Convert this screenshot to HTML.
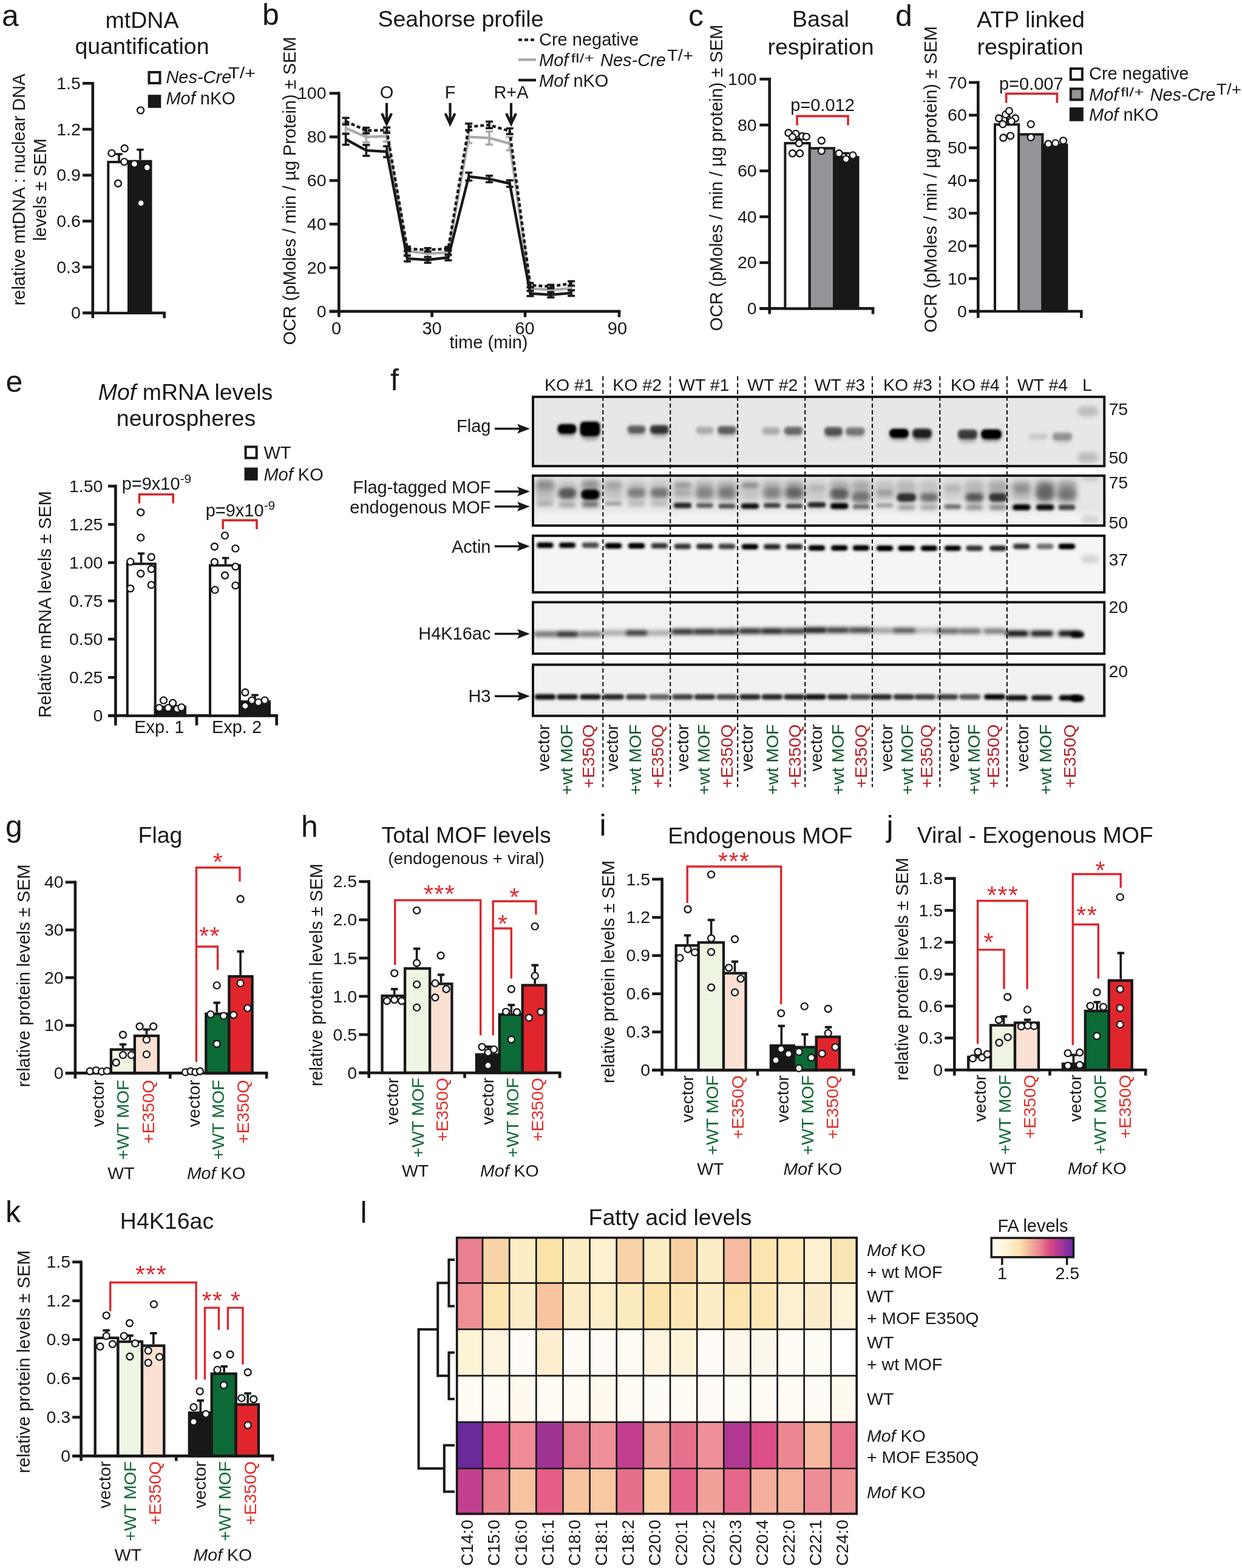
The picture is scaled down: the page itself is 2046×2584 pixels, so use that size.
<!DOCTYPE html>
<html><head><meta charset="utf-8"><style>
html,body{margin:0;padding:0;background:#fff;}
svg{display:block;}
text{font-family:"Liberation Sans", Arial, Helvetica, sans-serif;}
</style></head><body>
<svg width="2046" height="2584" viewBox="0 0 2046 2584">
<rect width="2046" height="2584" fill="#fff"/>
<text x="3.0" y="43.0" font-size="50" text-anchor="start" fill="#181818">a</text>
<text x="234.0" y="46.0" font-size="37.5" text-anchor="middle" fill="#181818">mtDNA</text>
<text x="234.0" y="89.0" font-size="37.5" text-anchor="middle" fill="#181818">quantification</text>
<line x1="152.8" y1="135.0" x2="152.8" y2="524.3" stroke="#181818" stroke-width="4.6"/>
<line x1="136.0" y1="515.8" x2="273.0" y2="515.8" stroke="#181818" stroke-width="4.6"/>
<line x1="270.7" y1="515.8" x2="270.7" y2="524.3" stroke="#181818" stroke-width="4.6"/>
<line x1="136.0" y1="515.8" x2="152.8" y2="515.8" stroke="#181818" stroke-width="4.6"/>
<text x="132.8" y="525.4" font-size="28.5" text-anchor="end" fill="#181818">0</text>
<line x1="136.0" y1="440.1" x2="152.8" y2="440.1" stroke="#181818" stroke-width="4.6"/>
<text x="132.8" y="449.7" font-size="28.5" text-anchor="end" fill="#181818">0.3</text>
<line x1="136.0" y1="364.4" x2="152.8" y2="364.4" stroke="#181818" stroke-width="4.6"/>
<text x="132.8" y="374.0" font-size="28.5" text-anchor="end" fill="#181818">0.6</text>
<line x1="136.0" y1="288.7" x2="152.8" y2="288.7" stroke="#181818" stroke-width="4.6"/>
<text x="132.8" y="298.3" font-size="28.5" text-anchor="end" fill="#181818">0.9</text>
<line x1="136.0" y1="213.0" x2="152.8" y2="213.0" stroke="#181818" stroke-width="4.6"/>
<text x="132.8" y="222.6" font-size="28.5" text-anchor="end" fill="#181818">1.2</text>
<line x1="136.0" y1="137.3" x2="152.8" y2="137.3" stroke="#181818" stroke-width="4.6"/>
<text x="132.8" y="146.9" font-size="28.5" text-anchor="end" fill="#181818">1.5</text>
<rect x="178.3" y="267.0" width="33.7" height="248.8" fill="#fff" stroke="#181818" stroke-width="4.0" stroke-linejoin="miter"/>
<rect x="212.0" y="265.7" width="36.5" height="250.1" fill="#181818" stroke="#181818" stroke-width="4.0" stroke-linejoin="miter"/>
<line x1="196.0" y1="266.0" x2="196.0" y2="254.0" stroke="#181818" stroke-width="3.6"/>
<line x1="190.2" y1="254.0" x2="201.8" y2="254.0" stroke="#181818" stroke-width="3.6"/>
<line x1="230.9" y1="263.5" x2="230.9" y2="246.7" stroke="#181818" stroke-width="3.6"/>
<line x1="225.2" y1="246.7" x2="236.7" y2="246.7" stroke="#181818" stroke-width="3.6"/>
<circle cx="184.0" cy="252.4" r="5.5" fill="#fff" stroke="#181818" stroke-width="2.35"/>
<circle cx="205.2" cy="244.5" r="5.5" fill="#fff" stroke="#181818" stroke-width="2.35"/>
<circle cx="204.7" cy="266.6" r="5.5" fill="#fff" stroke="#181818" stroke-width="2.35"/>
<circle cx="194.5" cy="302.2" r="5.5" fill="#fff" stroke="#181818" stroke-width="2.35"/>
<circle cx="231.6" cy="181.8" r="5.5" fill="#fff" stroke="#181818" stroke-width="2.35"/>
<circle cx="221.4" cy="270.1" r="5.5" fill="#fff" stroke="#181818" stroke-width="2.35"/>
<circle cx="242.4" cy="276.1" r="5.5" fill="#fff" stroke="#181818" stroke-width="2.35"/>
<circle cx="232.2" cy="334.8" r="5.5" fill="#fff" stroke="#181818" stroke-width="2.35"/>
<rect x="245.5" y="119.0" width="18.0" height="18.0" fill="#fff" stroke="#181818" stroke-width="4"/>
<rect x="243.7" y="156.2" width="21.6" height="21.6" fill="#181818" stroke="none" stroke-width="0"/>
<text x="273.4" y="137.4" font-size="29" text-anchor="start" fill="#181818" font-style="italic">Nes-Cre</text>
<text x="376.0" y="128.5" font-size="26" text-anchor="start" fill="#181818" textLength="45" lengthAdjust="spacingAndGlyphs">T/+</text>
<text x="273.4" y="172.4" font-size="29" text-anchor="start" fill="#181818"><tspan font-style="italic">Mof</tspan> nKO</text>
<text x="41.0" y="312.4" font-size="29" text-anchor="middle" fill="#181818" transform="rotate(-90 41.0 312.4)">relative mtDNA : nuclear DNA</text>
<text x="76.0" y="312.5" font-size="29" text-anchor="middle" fill="#181818" transform="rotate(-90 76.0 312.5)">levels ± SEM</text>
<text x="432.0" y="41.0" font-size="50" text-anchor="start" fill="#181818">b</text>
<text x="759.0" y="44.0" font-size="37.5" text-anchor="middle" fill="#181818">Seahorse profile</text>
<line x1="558.3" y1="151.4" x2="558.3" y2="522.6" stroke="#181818" stroke-width="4.6"/>
<line x1="542.7" y1="513.1" x2="1022.3" y2="513.1" stroke="#181818" stroke-width="4.6"/>
<line x1="1020.0" y1="513.1" x2="1020.0" y2="522.6" stroke="#181818" stroke-width="4.6"/>
<line x1="711.6" y1="513.1" x2="711.6" y2="522.6" stroke="#181818" stroke-width="4.6"/>
<line x1="865.0" y1="513.1" x2="865.0" y2="522.6" stroke="#181818" stroke-width="4.6"/>
<line x1="542.7" y1="513.1" x2="558.3" y2="513.1" stroke="#181818" stroke-width="4.6"/>
<text x="537.5" y="522.7" font-size="28.5" text-anchor="end" fill="#181818">0</text>
<line x1="542.7" y1="441.2" x2="558.3" y2="441.2" stroke="#181818" stroke-width="4.6"/>
<text x="537.5" y="450.8" font-size="28.5" text-anchor="end" fill="#181818">20</text>
<line x1="542.7" y1="369.3" x2="558.3" y2="369.3" stroke="#181818" stroke-width="4.6"/>
<text x="537.5" y="378.9" font-size="28.5" text-anchor="end" fill="#181818">40</text>
<line x1="542.7" y1="297.5" x2="558.3" y2="297.5" stroke="#181818" stroke-width="4.6"/>
<text x="537.5" y="307.1" font-size="28.5" text-anchor="end" fill="#181818">60</text>
<line x1="542.7" y1="225.6" x2="558.3" y2="225.6" stroke="#181818" stroke-width="4.6"/>
<text x="537.5" y="235.2" font-size="28.5" text-anchor="end" fill="#181818">80</text>
<line x1="542.7" y1="153.7" x2="558.3" y2="153.7" stroke="#181818" stroke-width="4.6"/>
<text x="537.5" y="163.3" font-size="28.5" text-anchor="end" fill="#181818">100</text>
<text x="554.0" y="550.5" font-size="29" text-anchor="middle" fill="#181818">0</text>
<text x="711.6" y="550.5" font-size="29" text-anchor="middle" fill="#181818">30</text>
<text x="864.4" y="550.5" font-size="29" text-anchor="middle" fill="#181818">60</text>
<text x="1017.0" y="550.5" font-size="29" text-anchor="middle" fill="#181818">90</text>
<text x="805.0" y="574.0" font-size="29" text-anchor="middle" fill="#181818">time (min)</text>
<text x="487.4" y="314.5" font-size="29" text-anchor="middle" fill="#181818" transform="rotate(-90 487.4 314.5)">OCR (pMoles / min / µg Protein) ± SEM</text>
<polyline points="569.6,211.2 603.3,225.6 637.1,224.5 670.9,413.9 704.6,417.9 738.4,416.1 772.2,225.6 806.0,227.4 839.7,236.7 873.5,475.4 907.3,477.5 941.1,475.4" stroke="#a7a9ac" stroke-width="4.4" fill="none" stroke-linejoin="round"/>
<line x1="569.6" y1="202.2" x2="569.6" y2="220.2" stroke="#a7a9ac" stroke-width="3.6"/>
<line x1="563.6" y1="202.2" x2="575.6" y2="202.2" stroke="#a7a9ac" stroke-width="3.6"/>
<line x1="563.6" y1="220.2" x2="575.6" y2="220.2" stroke="#a7a9ac" stroke-width="3.6"/>
<line x1="603.3" y1="216.6" x2="603.3" y2="234.6" stroke="#a7a9ac" stroke-width="3.6"/>
<line x1="597.3" y1="216.6" x2="609.3" y2="216.6" stroke="#a7a9ac" stroke-width="3.6"/>
<line x1="597.3" y1="234.6" x2="609.3" y2="234.6" stroke="#a7a9ac" stroke-width="3.6"/>
<line x1="637.1" y1="215.5" x2="637.1" y2="233.5" stroke="#a7a9ac" stroke-width="3.6"/>
<line x1="631.1" y1="215.5" x2="643.1" y2="215.5" stroke="#a7a9ac" stroke-width="3.6"/>
<line x1="631.1" y1="233.5" x2="643.1" y2="233.5" stroke="#a7a9ac" stroke-width="3.6"/>
<line x1="670.9" y1="408.5" x2="670.9" y2="419.3" stroke="#a7a9ac" stroke-width="3.6"/>
<line x1="664.9" y1="408.5" x2="676.9" y2="408.5" stroke="#a7a9ac" stroke-width="3.6"/>
<line x1="664.9" y1="419.3" x2="676.9" y2="419.3" stroke="#a7a9ac" stroke-width="3.6"/>
<line x1="704.6" y1="412.5" x2="704.6" y2="423.3" stroke="#a7a9ac" stroke-width="3.6"/>
<line x1="698.6" y1="412.5" x2="710.6" y2="412.5" stroke="#a7a9ac" stroke-width="3.6"/>
<line x1="698.6" y1="423.3" x2="710.6" y2="423.3" stroke="#a7a9ac" stroke-width="3.6"/>
<line x1="738.4" y1="410.7" x2="738.4" y2="421.5" stroke="#a7a9ac" stroke-width="3.6"/>
<line x1="732.4" y1="410.7" x2="744.4" y2="410.7" stroke="#a7a9ac" stroke-width="3.6"/>
<line x1="732.4" y1="421.5" x2="744.4" y2="421.5" stroke="#a7a9ac" stroke-width="3.6"/>
<line x1="772.2" y1="215.5" x2="772.2" y2="235.6" stroke="#a7a9ac" stroke-width="3.6"/>
<line x1="766.2" y1="215.5" x2="778.2" y2="215.5" stroke="#a7a9ac" stroke-width="3.6"/>
<line x1="766.2" y1="235.6" x2="778.2" y2="235.6" stroke="#a7a9ac" stroke-width="3.6"/>
<line x1="806.0" y1="216.6" x2="806.0" y2="238.2" stroke="#a7a9ac" stroke-width="3.6"/>
<line x1="800.0" y1="216.6" x2="812.0" y2="216.6" stroke="#a7a9ac" stroke-width="3.6"/>
<line x1="800.0" y1="238.2" x2="812.0" y2="238.2" stroke="#a7a9ac" stroke-width="3.6"/>
<line x1="839.7" y1="225.9" x2="839.7" y2="247.5" stroke="#a7a9ac" stroke-width="3.6"/>
<line x1="833.7" y1="225.9" x2="845.7" y2="225.9" stroke="#a7a9ac" stroke-width="3.6"/>
<line x1="833.7" y1="247.5" x2="845.7" y2="247.5" stroke="#a7a9ac" stroke-width="3.6"/>
<line x1="873.5" y1="471.1" x2="873.5" y2="479.7" stroke="#a7a9ac" stroke-width="3.6"/>
<line x1="867.5" y1="471.1" x2="879.5" y2="471.1" stroke="#a7a9ac" stroke-width="3.6"/>
<line x1="867.5" y1="479.7" x2="879.5" y2="479.7" stroke="#a7a9ac" stroke-width="3.6"/>
<line x1="907.3" y1="473.2" x2="907.3" y2="481.8" stroke="#a7a9ac" stroke-width="3.6"/>
<line x1="901.3" y1="473.2" x2="913.3" y2="473.2" stroke="#a7a9ac" stroke-width="3.6"/>
<line x1="901.3" y1="481.8" x2="913.3" y2="481.8" stroke="#a7a9ac" stroke-width="3.6"/>
<line x1="941.1" y1="471.1" x2="941.1" y2="479.7" stroke="#a7a9ac" stroke-width="3.6"/>
<line x1="935.1" y1="471.1" x2="947.1" y2="471.1" stroke="#a7a9ac" stroke-width="3.6"/>
<line x1="935.1" y1="479.7" x2="947.1" y2="479.7" stroke="#a7a9ac" stroke-width="3.6"/>
<polyline points="569.6,229.5 603.3,247.9 637.1,250.0 670.9,426.1 704.6,428.3 738.4,424.3 772.2,291.0 806.0,294.9 839.7,302.5 873.5,483.6 907.3,485.8 941.1,482.9" stroke="#181818" stroke-width="4.4" fill="none" stroke-linejoin="round"/>
<line x1="569.6" y1="220.5" x2="569.6" y2="238.5" stroke="#181818" stroke-width="3.6"/>
<line x1="563.6" y1="220.5" x2="575.6" y2="220.5" stroke="#181818" stroke-width="3.6"/>
<line x1="563.6" y1="238.5" x2="575.6" y2="238.5" stroke="#181818" stroke-width="3.6"/>
<line x1="603.3" y1="238.9" x2="603.3" y2="256.8" stroke="#181818" stroke-width="3.6"/>
<line x1="597.3" y1="238.9" x2="609.3" y2="238.9" stroke="#181818" stroke-width="3.6"/>
<line x1="597.3" y1="256.8" x2="609.3" y2="256.8" stroke="#181818" stroke-width="3.6"/>
<line x1="637.1" y1="241.0" x2="637.1" y2="259.0" stroke="#181818" stroke-width="3.6"/>
<line x1="631.1" y1="241.0" x2="643.1" y2="241.0" stroke="#181818" stroke-width="3.6"/>
<line x1="631.1" y1="259.0" x2="643.1" y2="259.0" stroke="#181818" stroke-width="3.6"/>
<line x1="670.9" y1="421.5" x2="670.9" y2="430.8" stroke="#181818" stroke-width="3.6"/>
<line x1="664.9" y1="421.5" x2="676.9" y2="421.5" stroke="#181818" stroke-width="3.6"/>
<line x1="664.9" y1="430.8" x2="676.9" y2="430.8" stroke="#181818" stroke-width="3.6"/>
<line x1="704.6" y1="423.6" x2="704.6" y2="433.0" stroke="#181818" stroke-width="3.6"/>
<line x1="698.6" y1="423.6" x2="710.6" y2="423.6" stroke="#181818" stroke-width="3.6"/>
<line x1="698.6" y1="433.0" x2="710.6" y2="433.0" stroke="#181818" stroke-width="3.6"/>
<line x1="738.4" y1="419.7" x2="738.4" y2="429.0" stroke="#181818" stroke-width="3.6"/>
<line x1="732.4" y1="419.7" x2="744.4" y2="419.7" stroke="#181818" stroke-width="3.6"/>
<line x1="732.4" y1="429.0" x2="744.4" y2="429.0" stroke="#181818" stroke-width="3.6"/>
<line x1="772.2" y1="284.5" x2="772.2" y2="297.5" stroke="#181818" stroke-width="3.6"/>
<line x1="766.2" y1="284.5" x2="778.2" y2="284.5" stroke="#181818" stroke-width="3.6"/>
<line x1="766.2" y1="297.5" x2="778.2" y2="297.5" stroke="#181818" stroke-width="3.6"/>
<line x1="806.0" y1="289.6" x2="806.0" y2="300.3" stroke="#181818" stroke-width="3.6"/>
<line x1="800.0" y1="289.6" x2="812.0" y2="289.6" stroke="#181818" stroke-width="3.6"/>
<line x1="800.0" y1="300.3" x2="812.0" y2="300.3" stroke="#181818" stroke-width="3.6"/>
<line x1="839.7" y1="297.1" x2="839.7" y2="307.9" stroke="#181818" stroke-width="3.6"/>
<line x1="833.7" y1="297.1" x2="845.7" y2="297.1" stroke="#181818" stroke-width="3.6"/>
<line x1="833.7" y1="307.9" x2="845.7" y2="307.9" stroke="#181818" stroke-width="3.6"/>
<line x1="873.5" y1="479.3" x2="873.5" y2="487.9" stroke="#181818" stroke-width="3.6"/>
<line x1="867.5" y1="479.3" x2="879.5" y2="479.3" stroke="#181818" stroke-width="3.6"/>
<line x1="867.5" y1="487.9" x2="879.5" y2="487.9" stroke="#181818" stroke-width="3.6"/>
<line x1="907.3" y1="481.5" x2="907.3" y2="490.1" stroke="#181818" stroke-width="3.6"/>
<line x1="901.3" y1="481.5" x2="913.3" y2="481.5" stroke="#181818" stroke-width="3.6"/>
<line x1="901.3" y1="490.1" x2="913.3" y2="490.1" stroke="#181818" stroke-width="3.6"/>
<line x1="941.1" y1="478.2" x2="941.1" y2="487.6" stroke="#181818" stroke-width="3.6"/>
<line x1="935.1" y1="478.2" x2="947.1" y2="478.2" stroke="#181818" stroke-width="3.6"/>
<line x1="935.1" y1="487.6" x2="947.1" y2="487.6" stroke="#181818" stroke-width="3.6"/>
<polyline points="569.6,199.7 603.3,215.2 637.1,214.4 670.9,410.0 704.6,411.7 738.4,410.0 772.2,209.0 806.0,205.8 839.7,216.2 873.5,470.0 907.3,472.1 941.1,467.1" stroke="#181818" stroke-width="4.4" fill="none" stroke-dasharray="6 4" stroke-linejoin="round"/>
<line x1="569.6" y1="194.3" x2="569.6" y2="205.1" stroke="#181818" stroke-width="3.6"/>
<line x1="563.6" y1="194.3" x2="575.6" y2="194.3" stroke="#181818" stroke-width="3.6"/>
<line x1="563.6" y1="205.1" x2="575.6" y2="205.1" stroke="#181818" stroke-width="3.6"/>
<line x1="603.3" y1="210.5" x2="603.3" y2="219.8" stroke="#181818" stroke-width="3.6"/>
<line x1="597.3" y1="210.5" x2="609.3" y2="210.5" stroke="#181818" stroke-width="3.6"/>
<line x1="597.3" y1="219.8" x2="609.3" y2="219.8" stroke="#181818" stroke-width="3.6"/>
<line x1="637.1" y1="210.1" x2="637.1" y2="218.8" stroke="#181818" stroke-width="3.6"/>
<line x1="631.1" y1="210.1" x2="643.1" y2="210.1" stroke="#181818" stroke-width="3.6"/>
<line x1="631.1" y1="218.8" x2="643.1" y2="218.8" stroke="#181818" stroke-width="3.6"/>
<line x1="670.9" y1="406.4" x2="670.9" y2="413.5" stroke="#181818" stroke-width="3.6"/>
<line x1="664.9" y1="406.4" x2="676.9" y2="406.4" stroke="#181818" stroke-width="3.6"/>
<line x1="664.9" y1="413.5" x2="676.9" y2="413.5" stroke="#181818" stroke-width="3.6"/>
<line x1="704.6" y1="408.9" x2="704.6" y2="414.6" stroke="#181818" stroke-width="3.6"/>
<line x1="698.6" y1="408.9" x2="710.6" y2="408.9" stroke="#181818" stroke-width="3.6"/>
<line x1="698.6" y1="414.6" x2="710.6" y2="414.6" stroke="#181818" stroke-width="3.6"/>
<line x1="738.4" y1="407.1" x2="738.4" y2="412.8" stroke="#181818" stroke-width="3.6"/>
<line x1="732.4" y1="407.1" x2="744.4" y2="407.1" stroke="#181818" stroke-width="3.6"/>
<line x1="732.4" y1="412.8" x2="744.4" y2="412.8" stroke="#181818" stroke-width="3.6"/>
<line x1="772.2" y1="203.7" x2="772.2" y2="214.4" stroke="#181818" stroke-width="3.6"/>
<line x1="766.2" y1="203.7" x2="778.2" y2="203.7" stroke="#181818" stroke-width="3.6"/>
<line x1="766.2" y1="214.4" x2="778.2" y2="214.4" stroke="#181818" stroke-width="3.6"/>
<line x1="806.0" y1="200.4" x2="806.0" y2="211.2" stroke="#181818" stroke-width="3.6"/>
<line x1="800.0" y1="200.4" x2="812.0" y2="200.4" stroke="#181818" stroke-width="3.6"/>
<line x1="800.0" y1="211.2" x2="812.0" y2="211.2" stroke="#181818" stroke-width="3.6"/>
<line x1="839.7" y1="211.6" x2="839.7" y2="220.9" stroke="#181818" stroke-width="3.6"/>
<line x1="833.7" y1="211.6" x2="845.7" y2="211.6" stroke="#181818" stroke-width="3.6"/>
<line x1="833.7" y1="220.9" x2="845.7" y2="220.9" stroke="#181818" stroke-width="3.6"/>
<line x1="873.5" y1="466.4" x2="873.5" y2="473.6" stroke="#181818" stroke-width="3.6"/>
<line x1="867.5" y1="466.4" x2="879.5" y2="466.4" stroke="#181818" stroke-width="3.6"/>
<line x1="867.5" y1="473.6" x2="879.5" y2="473.6" stroke="#181818" stroke-width="3.6"/>
<line x1="907.3" y1="469.3" x2="907.3" y2="475.0" stroke="#181818" stroke-width="3.6"/>
<line x1="901.3" y1="469.3" x2="913.3" y2="469.3" stroke="#181818" stroke-width="3.6"/>
<line x1="901.3" y1="475.0" x2="913.3" y2="475.0" stroke="#181818" stroke-width="3.6"/>
<line x1="941.1" y1="463.5" x2="941.1" y2="470.7" stroke="#181818" stroke-width="3.6"/>
<line x1="935.1" y1="463.5" x2="947.1" y2="463.5" stroke="#181818" stroke-width="3.6"/>
<line x1="935.1" y1="470.7" x2="947.1" y2="470.7" stroke="#181818" stroke-width="3.6"/>
<text x="637.0" y="162.0" font-size="29" text-anchor="middle" fill="#181818">O</text>
<line x1="637.0" y1="169.7" x2="637.0" y2="203.0" stroke="#181818" stroke-width="4.2"/>
<polyline points="629.0,187.0 637.0,204.0 645.0,187.0" stroke="#181818" stroke-width="4.2" fill="none" stroke-linejoin="miter" stroke-miterlimit="10"/>
<text x="741.5" y="162.0" font-size="29" text-anchor="middle" fill="#181818">F</text>
<line x1="741.5" y1="169.7" x2="741.5" y2="203.0" stroke="#181818" stroke-width="4.2"/>
<polyline points="733.5,187.0 741.5,204.0 749.5,187.0" stroke="#181818" stroke-width="4.2" fill="none" stroke-linejoin="miter" stroke-miterlimit="10"/>
<text x="842.0" y="162.0" font-size="29" text-anchor="middle" fill="#181818">R+A</text>
<line x1="842.0" y1="169.7" x2="842.0" y2="203.0" stroke="#181818" stroke-width="4.2"/>
<polyline points="834.0,187.0 842.0,204.0 850.0,187.0" stroke="#181818" stroke-width="4.2" fill="none" stroke-linejoin="miter" stroke-miterlimit="10"/>
<line x1="854.0" y1="65.6" x2="883.0" y2="65.6" stroke="#181818" stroke-width="4.4" stroke-dasharray="6 4"/>
<line x1="854.0" y1="98.4" x2="883.0" y2="98.4" stroke="#a7a9ac" stroke-width="4.4"/>
<line x1="854.0" y1="132.0" x2="883.0" y2="132.0" stroke="#181818" stroke-width="4.4"/>
<text x="888.0" y="75.0" font-size="29" text-anchor="start" fill="#181818">Cre negative</text>
<text x="888.0" y="108.9" font-size="29" text-anchor="start" fill="#181818" font-style="italic">Mof</text>
<text x="940.5" y="102.5" font-size="21" text-anchor="start" fill="#181818" textLength="38.5" lengthAdjust="spacingAndGlyphs">fl/+</text>
<text x="989.0" y="108.9" font-size="29" text-anchor="start" fill="#181818" font-style="italic">Nes-Cre</text>
<text x="1099.0" y="100.0" font-size="26" text-anchor="start" fill="#181818" textLength="43" lengthAdjust="spacingAndGlyphs">T/+</text>
<text x="888.0" y="143.4" font-size="29" text-anchor="start" fill="#181818"><tspan font-style="italic">Mof</tspan> nKO</text>
<text x="1134.0" y="43.0" font-size="50" text-anchor="start" fill="#181818">c</text>
<text x="1352.0" y="44.4" font-size="37.5" text-anchor="middle" fill="#181818">Basal</text>
<text x="1352.0" y="90.0" font-size="37.5" text-anchor="middle" fill="#181818">respiration</text>
<line x1="1267.7" y1="128.1" x2="1267.7" y2="517.6" stroke="#181818" stroke-width="4.6"/>
<line x1="1251.3" y1="508.4" x2="1440.3" y2="508.4" stroke="#181818" stroke-width="4.6"/>
<line x1="1438.0" y1="508.4" x2="1438.0" y2="517.6" stroke="#181818" stroke-width="4.6"/>
<line x1="1251.3" y1="508.4" x2="1267.7" y2="508.4" stroke="#181818" stroke-width="4.6"/>
<text x="1246.6" y="518.0" font-size="28.5" text-anchor="end" fill="#181818">0</text>
<line x1="1251.3" y1="432.8" x2="1267.7" y2="432.8" stroke="#181818" stroke-width="4.6"/>
<text x="1246.6" y="442.4" font-size="28.5" text-anchor="end" fill="#181818">20</text>
<line x1="1251.3" y1="357.2" x2="1267.7" y2="357.2" stroke="#181818" stroke-width="4.6"/>
<text x="1246.6" y="366.8" font-size="28.5" text-anchor="end" fill="#181818">40</text>
<line x1="1251.3" y1="281.6" x2="1267.7" y2="281.6" stroke="#181818" stroke-width="4.6"/>
<text x="1246.6" y="291.2" font-size="28.5" text-anchor="end" fill="#181818">60</text>
<line x1="1251.3" y1="206.0" x2="1267.7" y2="206.0" stroke="#181818" stroke-width="4.6"/>
<text x="1246.6" y="215.6" font-size="28.5" text-anchor="end" fill="#181818">80</text>
<line x1="1251.3" y1="130.4" x2="1267.7" y2="130.4" stroke="#181818" stroke-width="4.6"/>
<text x="1246.6" y="140.0" font-size="28.5" text-anchor="end" fill="#181818">100</text>
<rect x="1293.4" y="236.0" width="40.3" height="272.4" fill="#fff" stroke="#181818" stroke-width="4.0" stroke-linejoin="miter"/>
<rect x="1333.7" y="244.3" width="40.3" height="264.1" fill="#939598" stroke="#181818" stroke-width="4.0" stroke-linejoin="miter"/>
<rect x="1374.0" y="259.0" width="39.5" height="249.4" fill="#181818" stroke="#181818" stroke-width="4.0" stroke-linejoin="miter"/>
<line x1="1313.5" y1="234.0" x2="1313.5" y2="228.9" stroke="#181818" stroke-width="3.6"/>
<line x1="1307.8" y1="228.9" x2="1319.2" y2="228.9" stroke="#181818" stroke-width="3.6"/>
<line x1="1393.7" y1="257.0" x2="1393.7" y2="252.4" stroke="#181818" stroke-width="3.6"/>
<line x1="1388.0" y1="252.4" x2="1399.5" y2="252.4" stroke="#181818" stroke-width="3.6"/>
<circle cx="1298.8" cy="219.0" r="5.5" fill="#fff" stroke="#181818" stroke-width="2.35"/>
<circle cx="1310.9" cy="220.4" r="5.5" fill="#fff" stroke="#181818" stroke-width="2.35"/>
<circle cx="1321.6" cy="224.5" r="5.5" fill="#fff" stroke="#181818" stroke-width="2.35"/>
<circle cx="1328.3" cy="225.3" r="5.5" fill="#fff" stroke="#181818" stroke-width="2.35"/>
<circle cx="1305.5" cy="225.8" r="5.5" fill="#fff" stroke="#181818" stroke-width="2.35"/>
<circle cx="1316.2" cy="236.0" r="5.5" fill="#fff" stroke="#181818" stroke-width="2.35"/>
<circle cx="1305.5" cy="252.7" r="5.5" fill="#fff" stroke="#181818" stroke-width="2.35"/>
<circle cx="1317.6" cy="252.7" r="5.5" fill="#fff" stroke="#181818" stroke-width="2.35"/>
<circle cx="1353.3" cy="231.7" r="5.5" fill="#fff" stroke="#181818" stroke-width="2.35"/>
<circle cx="1353.3" cy="248.7" r="5.5" fill="#fff" stroke="#181818" stroke-width="2.35"/>
<circle cx="1382.1" cy="252.7" r="5.5" fill="#fff" stroke="#181818" stroke-width="2.35"/>
<circle cx="1393.7" cy="262.1" r="5.5" fill="#fff" stroke="#181818" stroke-width="2.35"/>
<circle cx="1405.0" cy="255.9" r="5.5" fill="#fff" stroke="#181818" stroke-width="2.35"/>
<polyline points="1313.0,206.5 1313.0,191.4 1397.0,191.4 1397.0,206.5" stroke="#d7262b" stroke-width="3.6" fill="none" stroke-linejoin="miter" stroke-linecap="butt"/>
<text x="1355.0" y="182.8" font-size="29" text-anchor="middle" fill="#181818">p=0.012</text>
<text x="1190.4" y="293.0" font-size="29" text-anchor="middle" fill="#181818" transform="rotate(-90 1190.4 293.0)">OCR (pMoles / min / µg protein) ± SEM</text>
<text x="1475.0" y="43.0" font-size="50" text-anchor="start" fill="#181818">d</text>
<text x="1698.0" y="44.8" font-size="37.5" text-anchor="middle" fill="#181818">ATP linked</text>
<text x="1697.0" y="89.5" font-size="37.5" text-anchor="middle" fill="#181818">respiration</text>
<line x1="1611.3" y1="133.6" x2="1611.3" y2="524.0" stroke="#181818" stroke-width="4.6"/>
<line x1="1596.0" y1="513.0" x2="1783.6" y2="513.0" stroke="#181818" stroke-width="4.6"/>
<line x1="1781.3" y1="513.0" x2="1781.3" y2="524.0" stroke="#181818" stroke-width="4.6"/>
<line x1="1596.0" y1="513.0" x2="1611.3" y2="513.0" stroke="#181818" stroke-width="4.6"/>
<text x="1592.8" y="522.6" font-size="28.5" text-anchor="end" fill="#181818">0</text>
<line x1="1596.0" y1="459.1" x2="1611.3" y2="459.1" stroke="#181818" stroke-width="4.6"/>
<text x="1592.8" y="468.7" font-size="28.5" text-anchor="end" fill="#181818">10</text>
<line x1="1596.0" y1="405.3" x2="1611.3" y2="405.3" stroke="#181818" stroke-width="4.6"/>
<text x="1592.8" y="414.9" font-size="28.5" text-anchor="end" fill="#181818">20</text>
<line x1="1596.0" y1="351.4" x2="1611.3" y2="351.4" stroke="#181818" stroke-width="4.6"/>
<text x="1592.8" y="361.0" font-size="28.5" text-anchor="end" fill="#181818">30</text>
<line x1="1596.0" y1="297.5" x2="1611.3" y2="297.5" stroke="#181818" stroke-width="4.6"/>
<text x="1592.8" y="307.1" font-size="28.5" text-anchor="end" fill="#181818">40</text>
<line x1="1596.0" y1="243.6" x2="1611.3" y2="243.6" stroke="#181818" stroke-width="4.6"/>
<text x="1592.8" y="253.2" font-size="28.5" text-anchor="end" fill="#181818">50</text>
<line x1="1596.0" y1="189.8" x2="1611.3" y2="189.8" stroke="#181818" stroke-width="4.6"/>
<text x="1592.8" y="199.4" font-size="28.5" text-anchor="end" fill="#181818">60</text>
<line x1="1596.0" y1="135.9" x2="1611.3" y2="135.9" stroke="#181818" stroke-width="4.6"/>
<text x="1592.8" y="145.5" font-size="28.5" text-anchor="end" fill="#181818">70</text>
<rect x="1639.0" y="205.2" width="39.2" height="307.8" fill="#fff" stroke="#181818" stroke-width="4.0" stroke-linejoin="miter"/>
<rect x="1678.2" y="221.4" width="39.2" height="291.6" fill="#939598" stroke="#181818" stroke-width="4.0" stroke-linejoin="miter"/>
<rect x="1717.4" y="238.6" width="40.0" height="274.4" fill="#181818" stroke="#181818" stroke-width="4.0" stroke-linejoin="miter"/>
<line x1="1659.0" y1="203.2" x2="1659.0" y2="191.9" stroke="#181818" stroke-width="3.6"/>
<line x1="1653.2" y1="191.9" x2="1664.8" y2="191.9" stroke="#181818" stroke-width="3.6"/>
<circle cx="1645.5" cy="195.0" r="5.5" fill="#fff" stroke="#181818" stroke-width="2.35"/>
<circle cx="1656.6" cy="188.6" r="5.5" fill="#fff" stroke="#181818" stroke-width="2.35"/>
<circle cx="1662.4" cy="182.9" r="5.5" fill="#fff" stroke="#181818" stroke-width="2.35"/>
<circle cx="1672.6" cy="195.0" r="5.5" fill="#fff" stroke="#181818" stroke-width="2.35"/>
<circle cx="1666.2" cy="199.8" r="5.5" fill="#fff" stroke="#181818" stroke-width="2.35"/>
<circle cx="1651.9" cy="204.6" r="5.5" fill="#fff" stroke="#181818" stroke-width="2.35"/>
<circle cx="1652.8" cy="227.0" r="5.5" fill="#fff" stroke="#181818" stroke-width="2.35"/>
<circle cx="1664.6" cy="223.8" r="5.5" fill="#fff" stroke="#181818" stroke-width="2.35"/>
<circle cx="1698.2" cy="204.6" r="5.5" fill="#fff" stroke="#181818" stroke-width="2.35"/>
<circle cx="1698.2" cy="226.3" r="5.5" fill="#fff" stroke="#181818" stroke-width="2.35"/>
<circle cx="1727.0" cy="237.2" r="5.5" fill="#fff" stroke="#181818" stroke-width="2.35"/>
<circle cx="1738.8" cy="235.9" r="5.5" fill="#fff" stroke="#181818" stroke-width="2.35"/>
<circle cx="1751.6" cy="231.8" r="5.5" fill="#fff" stroke="#181818" stroke-width="2.35"/>
<polyline points="1657.6,169.4 1657.6,154.4 1741.4,154.4 1741.4,169.4" stroke="#d7262b" stroke-width="3.6" fill="none" stroke-linejoin="miter" stroke-linecap="butt"/>
<text x="1698.8" y="147.7" font-size="29" text-anchor="middle" fill="#181818">p=0.007</text>
<rect x="1763.8" y="113.1" width="19.0" height="18.1" fill="#fff" stroke="#181818" stroke-width="4"/>
<rect x="1763.8" y="146.3" width="19.0" height="18.1" fill="#939598" stroke="#181818" stroke-width="4"/>
<rect x="1761.8" y="177.0" width="23.0" height="22.7" fill="#181818" stroke="none" stroke-width="0"/>
<text x="1794.0" y="130.7" font-size="29" text-anchor="start" fill="#181818">Cre negative</text>
<text x="1794.0" y="165.6" font-size="29" text-anchor="start" fill="#181818" font-style="italic">Mof</text>
<text x="1846.0" y="158.8" font-size="21" text-anchor="start" fill="#181818" textLength="38.5" lengthAdjust="spacingAndGlyphs">fl/+</text>
<text x="1894.5" y="165.6" font-size="29" text-anchor="start" fill="#181818" font-style="italic">Nes-Cre</text>
<text x="2004.0" y="156.2" font-size="26" text-anchor="start" fill="#181818" textLength="41" lengthAdjust="spacingAndGlyphs">T/+</text>
<text x="1794.0" y="198.8" font-size="29" text-anchor="start" fill="#181818"><tspan font-style="italic">Mof</tspan> nKO</text>
<text x="1543.2" y="295.5" font-size="29" text-anchor="middle" fill="#181818" transform="rotate(-90 1543.2 295.5)">OCR (pMoles / min / µg protein) ± SEM</text>
<text x="9.5" y="645.5" font-size="50" text-anchor="start" fill="#181818">e</text>
<text x="305.5" y="659.0" font-size="37.5" text-anchor="middle" fill="#181818"><tspan font-style="italic">Mof</tspan> mRNA levels</text>
<text x="306.5" y="701.6" font-size="37.5" text-anchor="middle" fill="#181818">neurospheres</text>
<line x1="190.4" y1="798.8" x2="190.4" y2="1195.4" stroke="#181818" stroke-width="4.6"/>
<line x1="178.0" y1="1179.4" x2="458.0" y2="1179.4" stroke="#181818" stroke-width="4.6"/>
<line x1="455.7" y1="1179.4" x2="455.7" y2="1195.4" stroke="#181818" stroke-width="4.6"/>
<line x1="324.0" y1="1179.4" x2="324.0" y2="1195.4" stroke="#181818" stroke-width="4.6"/>
<line x1="178.0" y1="1179.4" x2="190.4" y2="1179.4" stroke="#181818" stroke-width="4.6"/>
<text x="169.4" y="1189.0" font-size="28.5" text-anchor="end" fill="#181818">0</text>
<line x1="178.0" y1="1116.4" x2="190.4" y2="1116.4" stroke="#181818" stroke-width="4.6"/>
<text x="169.4" y="1126.0" font-size="28.5" text-anchor="end" fill="#181818">0.25</text>
<line x1="178.0" y1="1053.3" x2="190.4" y2="1053.3" stroke="#181818" stroke-width="4.6"/>
<text x="169.4" y="1062.9" font-size="28.5" text-anchor="end" fill="#181818">0.50</text>
<line x1="178.0" y1="990.2" x2="190.4" y2="990.2" stroke="#181818" stroke-width="4.6"/>
<text x="169.4" y="999.9" font-size="28.5" text-anchor="end" fill="#181818">0.75</text>
<line x1="178.0" y1="927.2" x2="190.4" y2="927.2" stroke="#181818" stroke-width="4.6"/>
<text x="169.4" y="936.8" font-size="28.5" text-anchor="end" fill="#181818">1.00</text>
<line x1="178.0" y1="864.2" x2="190.4" y2="864.2" stroke="#181818" stroke-width="4.6"/>
<text x="169.4" y="873.8" font-size="28.5" text-anchor="end" fill="#181818">1.25</text>
<line x1="178.0" y1="801.1" x2="190.4" y2="801.1" stroke="#181818" stroke-width="4.6"/>
<text x="169.4" y="810.7" font-size="28.5" text-anchor="end" fill="#181818">1.50</text>
<rect x="209.8" y="929.2" width="45.9" height="250.2" fill="#fff" stroke="#181818" stroke-width="4.0" stroke-linejoin="miter"/>
<rect x="255.7" y="1165.0" width="49.3" height="14.4" fill="#181818" stroke="#181818" stroke-width="4.0" stroke-linejoin="miter"/>
<rect x="346.0" y="931.7" width="49.0" height="247.7" fill="#fff" stroke="#181818" stroke-width="4.0" stroke-linejoin="miter"/>
<rect x="395.0" y="1156.2" width="49.0" height="23.2" fill="#181818" stroke="#181818" stroke-width="4.0" stroke-linejoin="miter"/>
<line x1="232.5" y1="927.2" x2="232.5" y2="912.1" stroke="#181818" stroke-width="3.6"/>
<line x1="226.8" y1="912.1" x2="238.2" y2="912.1" stroke="#181818" stroke-width="3.6"/>
<line x1="371.5" y1="929.7" x2="371.5" y2="919.6" stroke="#181818" stroke-width="3.6"/>
<line x1="365.8" y1="919.6" x2="377.2" y2="919.6" stroke="#181818" stroke-width="3.6"/>
<line x1="420.0" y1="1154.2" x2="420.0" y2="1145.4" stroke="#181818" stroke-width="3.6"/>
<line x1="414.2" y1="1145.4" x2="425.8" y2="1145.4" stroke="#181818" stroke-width="3.6"/>
<circle cx="231.8" cy="844.3" r="5.5" fill="#fff" stroke="#181818" stroke-width="2.35"/>
<circle cx="231.8" cy="885.9" r="5.5" fill="#fff" stroke="#181818" stroke-width="2.35"/>
<circle cx="249.2" cy="918.0" r="5.5" fill="#fff" stroke="#181818" stroke-width="2.35"/>
<circle cx="214.8" cy="925.6" r="5.5" fill="#fff" stroke="#181818" stroke-width="2.35"/>
<circle cx="249.2" cy="937.7" r="5.5" fill="#fff" stroke="#181818" stroke-width="2.35"/>
<circle cx="231.8" cy="945.2" r="5.5" fill="#fff" stroke="#181818" stroke-width="2.35"/>
<circle cx="249.2" cy="963.9" r="5.5" fill="#fff" stroke="#181818" stroke-width="2.35"/>
<circle cx="214.8" cy="969.8" r="5.5" fill="#fff" stroke="#181818" stroke-width="2.35"/>
<circle cx="269.5" cy="1154.1" r="5.5" fill="#fff" stroke="#181818" stroke-width="2.35"/>
<circle cx="284.6" cy="1158.4" r="5.5" fill="#fff" stroke="#181818" stroke-width="2.35"/>
<circle cx="262.3" cy="1166.6" r="5.5" fill="#fff" stroke="#181818" stroke-width="2.35"/>
<circle cx="277.0" cy="1166.6" r="5.5" fill="#fff" stroke="#181818" stroke-width="2.35"/>
<circle cx="291.8" cy="1168.2" r="5.5" fill="#fff" stroke="#181818" stroke-width="2.35"/>
<circle cx="299.0" cy="1165.6" r="5.5" fill="#fff" stroke="#181818" stroke-width="2.35"/>
<circle cx="370.5" cy="882.6" r="5.5" fill="#fff" stroke="#181818" stroke-width="2.35"/>
<circle cx="353.4" cy="900.7" r="5.5" fill="#fff" stroke="#181818" stroke-width="2.35"/>
<circle cx="387.9" cy="903.9" r="5.5" fill="#fff" stroke="#181818" stroke-width="2.35"/>
<circle cx="353.4" cy="926.2" r="5.5" fill="#fff" stroke="#181818" stroke-width="2.35"/>
<circle cx="387.9" cy="933.8" r="5.5" fill="#fff" stroke="#181818" stroke-width="2.35"/>
<circle cx="370.5" cy="948.2" r="5.5" fill="#fff" stroke="#181818" stroke-width="2.35"/>
<circle cx="387.9" cy="964.9" r="5.5" fill="#fff" stroke="#181818" stroke-width="2.35"/>
<circle cx="354.1" cy="972.1" r="5.5" fill="#fff" stroke="#181818" stroke-width="2.35"/>
<circle cx="403.9" cy="1141.0" r="5.5" fill="#fff" stroke="#181818" stroke-width="2.35"/>
<circle cx="414.8" cy="1154.1" r="5.5" fill="#fff" stroke="#181818" stroke-width="2.35"/>
<circle cx="425.6" cy="1157.4" r="5.5" fill="#fff" stroke="#181818" stroke-width="2.35"/>
<circle cx="436.1" cy="1154.1" r="5.5" fill="#fff" stroke="#181818" stroke-width="2.35"/>
<circle cx="403.9" cy="1163.3" r="5.5" fill="#fff" stroke="#181818" stroke-width="2.35"/>
<polyline points="229.5,829.5 229.5,814.8 285.2,814.8 285.2,829.5" stroke="#d7262b" stroke-width="3.6" fill="none" stroke-linejoin="miter" stroke-linecap="butt"/>
<polyline points="367.2,872.0 367.2,857.4 423.0,857.4 423.0,872.0" stroke="#d7262b" stroke-width="3.6" fill="none" stroke-linejoin="miter" stroke-linecap="butt"/>
<text x="258.0" y="806.6" font-size="29" text-anchor="middle" fill="#181818">p=9x10<tspan dy="-11" font-size="21">-9</tspan></text>
<text x="396.0" y="850.8" font-size="29" text-anchor="middle" fill="#181818">p=9x10<tspan dy="-11" font-size="21">-9</tspan></text>
<text x="262.3" y="1208.0" font-size="29" text-anchor="middle" fill="#181818">Exp. 1</text>
<text x="390.0" y="1208.0" font-size="29" text-anchor="middle" fill="#181818">Exp. 2</text>
<rect x="404.6" y="736.4" width="18.0" height="18.3" fill="#fff" stroke="#181818" stroke-width="4"/>
<rect x="402.6" y="770.5" width="22.0" height="21.3" fill="#181818" stroke="none" stroke-width="0"/>
<text x="434.4" y="755.7" font-size="29" text-anchor="start" fill="#181818">WT</text>
<text x="434.4" y="791.8" font-size="29" text-anchor="start" fill="#181818"><tspan font-style="italic">Mof</tspan> KO</text>
<text x="84.0" y="996.0" font-size="29" text-anchor="middle" fill="#181818" transform="rotate(-90 84.0 996.0)">Relative mRNA levels ± SEM</text>
<defs>
<filter id="b1" x="-50%" y="-100%" width="200%" height="300%"><feGaussianBlur stdDeviation="1.4"/></filter>
<filter id="b2" x="-50%" y="-100%" width="200%" height="300%"><feGaussianBlur stdDeviation="2.2"/></filter>
<filter id="b3" x="-50%" y="-100%" width="200%" height="300%"><feGaussianBlur stdDeviation="3.2"/></filter>
<filter id="b5" x="-50%" y="-100%" width="200%" height="300%"><feGaussianBlur stdDeviation="5"/></filter>

<clipPath id="clip_flag"><rect x="878" y="654.0" width="941.2" height="114.10000000000002"/></clipPath>
<clipPath id="clip_mof"><rect x="878" y="783.9" width="941.2" height="82.30000000000007"/></clipPath>
<clipPath id="clip_actin"><rect x="878" y="882.9" width="941.2" height="93.30000000000007"/></clipPath>
<clipPath id="clip_h4"><rect x="878" y="992.4" width="941.2" height="84.80000000000007"/></clipPath>
<clipPath id="clip_h3"><rect x="878" y="1095.4" width="941.2" height="84.29999999999995"/></clipPath>
</defs>
<text x="643.0" y="643.0" font-size="50" text-anchor="start" fill="#181818">f</text>
<text x="937.4" y="644.2" font-size="28.5" text-anchor="middle" fill="#181818">KO #1</text>
<text x="1049.6" y="644.2" font-size="28.5" text-anchor="middle" fill="#181818">KO #2</text>
<text x="1159.7" y="644.2" font-size="28.5" text-anchor="middle" fill="#181818">WT #1</text>
<text x="1272.7" y="644.2" font-size="28.5" text-anchor="middle" fill="#181818">WT #2</text>
<text x="1383.4" y="644.2" font-size="28.5" text-anchor="middle" fill="#181818">WT #3</text>
<text x="1495.5" y="644.2" font-size="28.5" text-anchor="middle" fill="#181818">KO #3</text>
<text x="1606.3" y="644.2" font-size="28.5" text-anchor="middle" fill="#181818">KO #4</text>
<text x="1717.4" y="644.2" font-size="28.5" text-anchor="middle" fill="#181818">WT #4</text>
<text x="1791.0" y="644.2" font-size="28.5" text-anchor="middle" fill="#181818">L</text>
<rect x="878.0" y="654.0" width="941.2" height="114.1" fill="#e7e7e7" stroke="none" stroke-width="0"/>
<rect x="878.0" y="783.9" width="941.2" height="82.3" fill="#e6e6e6" stroke="none" stroke-width="0"/>
<rect x="878.0" y="882.9" width="941.2" height="93.3" fill="#f5f5f5" stroke="none" stroke-width="0"/>
<rect x="878.0" y="992.4" width="941.2" height="84.8" fill="#f2f2f2" stroke="none" stroke-width="0"/>
<rect x="878.0" y="1095.4" width="941.2" height="84.3" fill="#f1f1f1" stroke="none" stroke-width="0"/>
<g clip-path="url(#clip_flag)">
<rect x="920.0" y="706.8" width="28.0" height="12.8" rx="6.4" fill="#000" fill-opacity="0.30" filter="url(#b3)"/>
<rect x="918.5" y="698.8" width="31.0" height="16.0" rx="7.0" fill="#000" fill-opacity="1.00" filter="url(#b2)"/>
<rect x="921.0" y="701.3" width="26.0" height="11.0" rx="5.0" fill="#000" fill-opacity="1.00" filter="url(#b1)"/>
<rect x="957.0" y="706.8" width="30.0" height="19.2" rx="9.6" fill="#000" fill-opacity="0.30" filter="url(#b3)"/>
<rect x="955.5" y="694.8" width="33.0" height="24.0" rx="7.0" fill="#000" fill-opacity="1.00" filter="url(#b2)"/>
<rect x="958.0" y="697.3" width="28.0" height="19.0" rx="5.0" fill="#000" fill-opacity="1.00" filter="url(#b1)"/>
<rect x="1035.0" y="707.5" width="27.0" height="11.7" rx="5.9" fill="#000" fill-opacity="0.19" filter="url(#b3)"/>
<rect x="1033.5" y="701.0" width="30.0" height="13.0" rx="6.0" fill="#000" fill-opacity="0.55" filter="url(#b2)"/>
<rect x="1072.4" y="707.5" width="28.0" height="12.9" rx="6.4" fill="#000" fill-opacity="0.26" filter="url(#b3)"/>
<rect x="1070.9" y="700.4" width="31.0" height="14.3" rx="6.0" fill="#000" fill-opacity="0.75" filter="url(#b2)"/>
<rect x="1147.5" y="708.5" width="27.0" height="10.5" rx="5.3" fill="#000" fill-opacity="0.08" filter="url(#b3)"/>
<rect x="1146.0" y="702.6" width="30.0" height="11.7" rx="5.9" fill="#000" fill-opacity="0.22" filter="url(#b2)"/>
<rect x="1183.4" y="708.5" width="28.0" height="11.7" rx="5.9" fill="#000" fill-opacity="0.19" filter="url(#b3)"/>
<rect x="1181.9" y="702.0" width="31.0" height="13.0" rx="6.0" fill="#000" fill-opacity="0.55" filter="url(#b2)"/>
<rect x="1256.5" y="709.5" width="27.0" height="10.5" rx="5.3" fill="#000" fill-opacity="0.08" filter="url(#b3)"/>
<rect x="1255.0" y="703.6" width="30.0" height="11.7" rx="5.9" fill="#000" fill-opacity="0.22" filter="url(#b2)"/>
<rect x="1293.0" y="709.5" width="28.0" height="11.7" rx="5.9" fill="#000" fill-opacity="0.17" filter="url(#b3)"/>
<rect x="1291.5" y="703.0" width="31.0" height="13.0" rx="6.0" fill="#000" fill-opacity="0.50" filter="url(#b2)"/>
<rect x="1359.5" y="710.5" width="27.0" height="12.9" rx="6.4" fill="#000" fill-opacity="0.21" filter="url(#b3)"/>
<rect x="1358.0" y="703.4" width="30.0" height="14.3" rx="6.0" fill="#000" fill-opacity="0.60" filter="url(#b2)"/>
<rect x="1394.3" y="710.5" width="29.0" height="11.7" rx="5.9" fill="#000" fill-opacity="0.16" filter="url(#b3)"/>
<rect x="1392.8" y="704.0" width="32.0" height="13.0" rx="6.0" fill="#000" fill-opacity="0.45" filter="url(#b2)"/>
<rect x="1466.5" y="714.0" width="29.0" height="12.0" rx="6.0" fill="#000" fill-opacity="0.30" filter="url(#b3)"/>
<rect x="1465.0" y="706.5" width="32.0" height="15.0" rx="7.0" fill="#000" fill-opacity="1.00" filter="url(#b2)"/>
<rect x="1467.5" y="709.0" width="27.0" height="10.0" rx="5.0" fill="#000" fill-opacity="1.00" filter="url(#b1)"/>
<rect x="1504.5" y="714.0" width="29.0" height="14.0" rx="7.0" fill="#000" fill-opacity="0.30" filter="url(#b3)"/>
<rect x="1503.0" y="706.2" width="32.0" height="15.6" rx="6.0" fill="#000" fill-opacity="0.85" filter="url(#b2)"/>
<rect x="1579.5" y="715.5" width="29.0" height="14.0" rx="7.0" fill="#000" fill-opacity="0.25" filter="url(#b3)"/>
<rect x="1578.0" y="707.7" width="32.0" height="15.6" rx="6.0" fill="#000" fill-opacity="0.72" filter="url(#b2)"/>
<rect x="1617.5" y="715.5" width="31.0" height="12.8" rx="6.4" fill="#000" fill-opacity="0.30" filter="url(#b3)"/>
<rect x="1616.0" y="707.5" width="34.0" height="16.0" rx="7.0" fill="#000" fill-opacity="1.00" filter="url(#b2)"/>
<rect x="1618.5" y="710.0" width="29.0" height="11.0" rx="5.0" fill="#000" fill-opacity="1.00" filter="url(#b1)"/>
<rect x="1695.5" y="719.0" width="29.0" height="9.4" rx="4.7" fill="#000" fill-opacity="0.03" filter="url(#b3)"/>
<rect x="1694.0" y="713.8" width="32.0" height="10.4" rx="5.2" fill="#000" fill-opacity="0.10" filter="url(#b2)"/>
<rect x="1735.0" y="719.0" width="30.0" height="11.7" rx="5.9" fill="#000" fill-opacity="0.11" filter="url(#b3)"/>
<rect x="1733.5" y="712.5" width="33.0" height="13.0" rx="6.0" fill="#000" fill-opacity="0.32" filter="url(#b2)"/>
<rect x="1775.0" y="669.3" width="34.0" height="17.0" rx="8.5" fill="#555" fill-opacity="0.28" filter="url(#b3)"/>
<rect x="1775.0" y="745.5" width="34.0" height="17.0" rx="8.5" fill="#555" fill-opacity="0.28" filter="url(#b3)"/>
</g>
<g clip-path="url(#clip_mof)">
<rect x="878" y="845" width="941.2" height="22" fill="#f3f3f3" filter="url(#b5)"/>
<rect x="882.0" y="791.0" width="32.0" height="34.0" rx="6.0" fill="#000" fill-opacity="0.18" filter="url(#b5)"/>
<rect x="918.6" y="791.0" width="32.0" height="34.0" rx="6.0" fill="#000" fill-opacity="0.15" filter="url(#b5)"/>
<rect x="956.6" y="791.0" width="32.0" height="34.0" rx="6.0" fill="#000" fill-opacity="0.20" filter="url(#b5)"/>
<rect x="994.5" y="791.0" width="32.0" height="34.0" rx="6.0" fill="#000" fill-opacity="0.15" filter="url(#b5)"/>
<rect x="1032.5" y="791.0" width="32.0" height="34.0" rx="6.0" fill="#000" fill-opacity="0.15" filter="url(#b5)"/>
<rect x="1070.4" y="791.0" width="32.0" height="34.0" rx="6.0" fill="#000" fill-opacity="0.15" filter="url(#b5)"/>
<rect x="1108.4" y="791.0" width="32.0" height="34.0" rx="6.0" fill="#000" fill-opacity="0.15" filter="url(#b5)"/>
<rect x="1144.9" y="791.0" width="32.0" height="34.0" rx="6.0" fill="#000" fill-opacity="0.20" filter="url(#b5)"/>
<rect x="1181.4" y="791.0" width="32.0" height="34.0" rx="6.0" fill="#000" fill-opacity="0.22" filter="url(#b5)"/>
<rect x="1219.4" y="791.0" width="32.0" height="34.0" rx="6.0" fill="#000" fill-opacity="0.15" filter="url(#b5)"/>
<rect x="1255.9" y="791.0" width="32.0" height="34.0" rx="6.0" fill="#000" fill-opacity="0.20" filter="url(#b5)"/>
<rect x="1292.4" y="791.0" width="32.0" height="34.0" rx="6.0" fill="#000" fill-opacity="0.25" filter="url(#b5)"/>
<rect x="1329.4" y="791.0" width="32.0" height="34.0" rx="6.0" fill="#000" fill-opacity="0.12" filter="url(#b5)"/>
<rect x="1366.7" y="791.0" width="32.0" height="34.0" rx="6.0" fill="#000" fill-opacity="0.25" filter="url(#b5)"/>
<rect x="1402.5" y="791.0" width="32.0" height="34.0" rx="6.0" fill="#000" fill-opacity="0.25" filter="url(#b5)"/>
<rect x="1441.4" y="791.0" width="32.0" height="34.0" rx="6.0" fill="#000" fill-opacity="0.15" filter="url(#b5)"/>
<rect x="1477.2" y="791.0" width="32.0" height="34.0" rx="6.0" fill="#000" fill-opacity="0.20" filter="url(#b5)"/>
<rect x="1514.5" y="791.0" width="32.0" height="34.0" rx="6.0" fill="#000" fill-opacity="0.15" filter="url(#b5)"/>
<rect x="1553.3" y="791.0" width="32.0" height="34.0" rx="6.0" fill="#000" fill-opacity="0.10" filter="url(#b5)"/>
<rect x="1589.2" y="791.0" width="32.0" height="34.0" rx="6.0" fill="#000" fill-opacity="0.20" filter="url(#b5)"/>
<rect x="1628.0" y="791.0" width="32.0" height="34.0" rx="6.0" fill="#000" fill-opacity="0.25" filter="url(#b5)"/>
<rect x="1666.8" y="791.0" width="32.0" height="34.0" rx="6.0" fill="#000" fill-opacity="0.20" filter="url(#b5)"/>
<rect x="1705.6" y="791.0" width="32.0" height="34.0" rx="6.0" fill="#000" fill-opacity="0.30" filter="url(#b5)"/>
<rect x="1741.4" y="791.0" width="32.0" height="34.0" rx="6.0" fill="#000" fill-opacity="0.28" filter="url(#b5)"/>
<rect x="883.0" y="791.0" width="30.0" height="16.0" rx="8.0" fill="#000" fill-opacity="0.28" filter="url(#b5)"/>
<rect x="884.0" y="826.0" width="28.0" height="8.0" rx="4.0" fill="#000" fill-opacity="0.25" filter="url(#b3)"/>
<rect x="919.6" y="804.0" width="30.0" height="18.0" rx="9.0" fill="#000" fill-opacity="0.55" filter="url(#b3)"/>
<rect x="920.6" y="828.0" width="28.0" height="8.0" rx="4.0" fill="#000" fill-opacity="0.30" filter="url(#b3)"/>
<rect x="957.1" y="806.5" width="31.0" height="17.0" rx="8.5" fill="#000" fill-opacity="1.00" filter="url(#b2)"/>
<rect x="958.6" y="826.0" width="28.0" height="10.0" rx="5.0" fill="#000" fill-opacity="0.50" filter="url(#b3)"/>
<rect x="958.6" y="792.0" width="28.0" height="12.0" rx="6.0" fill="#000" fill-opacity="0.25" filter="url(#b5)"/>
<rect x="996.5" y="794.0" width="28.0" height="12.0" rx="6.0" fill="#000" fill-opacity="0.20" filter="url(#b5)"/>
<rect x="996.5" y="827.0" width="28.0" height="6.0" rx="3.0" fill="#000" fill-opacity="0.30" filter="url(#b2)"/>
<rect x="1033.5" y="804.0" width="30.0" height="16.0" rx="8.0" fill="#000" fill-opacity="0.35" filter="url(#b3)"/>
<rect x="1034.5" y="826.0" width="28.0" height="8.0" rx="4.0" fill="#000" fill-opacity="0.20" filter="url(#b3)"/>
<rect x="1071.4" y="804.0" width="30.0" height="16.0" rx="8.0" fill="#000" fill-opacity="0.40" filter="url(#b3)"/>
<rect x="1072.4" y="826.0" width="28.0" height="8.0" rx="4.0" fill="#000" fill-opacity="0.20" filter="url(#b3)"/>
<rect x="1110.4" y="796.0" width="28.0" height="8.0" rx="4.0" fill="#000" fill-opacity="0.25" filter="url(#b3)"/>
<rect x="1110.4" y="809.0" width="28.0" height="6.0" rx="3.0" fill="#000" fill-opacity="0.20" filter="url(#b3)"/>
<rect x="1109.4" y="828.5" width="30.0" height="9.0" rx="4.5" fill="#000" fill-opacity="0.85" filter="url(#b2)"/>
<rect x="1145.9" y="803.0" width="30.0" height="18.0" rx="9.0" fill="#000" fill-opacity="0.30" filter="url(#b5)"/>
<rect x="1146.9" y="829.0" width="28.0" height="8.0" rx="4.0" fill="#000" fill-opacity="0.60" filter="url(#b2)"/>
<rect x="1182.4" y="803.0" width="30.0" height="18.0" rx="9.0" fill="#000" fill-opacity="0.35" filter="url(#b5)"/>
<rect x="1183.4" y="830.0" width="28.0" height="8.0" rx="4.0" fill="#000" fill-opacity="0.65" filter="url(#b2)"/>
<rect x="1221.4" y="796.0" width="28.0" height="8.0" rx="4.0" fill="#000" fill-opacity="0.30" filter="url(#b3)"/>
<rect x="1220.4" y="829.5" width="30.0" height="9.0" rx="4.5" fill="#000" fill-opacity="0.95" filter="url(#b2)"/>
<rect x="1256.9" y="803.0" width="30.0" height="18.0" rx="9.0" fill="#000" fill-opacity="0.30" filter="url(#b5)"/>
<rect x="1257.9" y="829.0" width="28.0" height="8.0" rx="4.0" fill="#000" fill-opacity="0.75" filter="url(#b2)"/>
<rect x="1293.4" y="803.0" width="30.0" height="18.0" rx="9.0" fill="#000" fill-opacity="0.45" filter="url(#b5)"/>
<rect x="1294.4" y="830.0" width="28.0" height="8.0" rx="4.0" fill="#000" fill-opacity="0.70" filter="url(#b2)"/>
<rect x="1331.4" y="801.0" width="28.0" height="8.0" rx="4.0" fill="#000" fill-opacity="0.12" filter="url(#b3)"/>
<rect x="1330.4" y="827.5" width="30.0" height="9.0" rx="4.5" fill="#000" fill-opacity="0.85" filter="url(#b2)"/>
<rect x="1367.7" y="805.0" width="30.0" height="18.0" rx="9.0" fill="#000" fill-opacity="0.45" filter="url(#b3)"/>
<rect x="1367.7" y="829.0" width="30.0" height="10.0" rx="5.0" fill="#000" fill-opacity="1.00" filter="url(#b2)"/>
<rect x="1403.5" y="811.0" width="30.0" height="18.0" rx="9.0" fill="#000" fill-opacity="0.35" filter="url(#b3)"/>
<rect x="1404.5" y="831.0" width="28.0" height="8.0" rx="4.0" fill="#000" fill-opacity="0.50" filter="url(#b2)"/>
<rect x="1443.4" y="807.0" width="28.0" height="10.0" rx="5.0" fill="#000" fill-opacity="0.20" filter="url(#b3)"/>
<rect x="1443.4" y="829.5" width="28.0" height="7.0" rx="3.5" fill="#000" fill-opacity="0.30" filter="url(#b2)"/>
<rect x="1477.2" y="813.0" width="32.0" height="14.0" rx="7.0" fill="#000" fill-opacity="0.75" filter="url(#b2)"/>
<rect x="1479.2" y="832.0" width="28.0" height="8.0" rx="4.0" fill="#000" fill-opacity="0.35" filter="url(#b3)"/>
<rect x="1515.5" y="813.0" width="30.0" height="14.0" rx="7.0" fill="#000" fill-opacity="0.45" filter="url(#b3)"/>
<rect x="1516.5" y="832.0" width="28.0" height="8.0" rx="4.0" fill="#000" fill-opacity="0.30" filter="url(#b3)"/>
<rect x="1555.3" y="800.0" width="28.0" height="10.0" rx="5.0" fill="#000" fill-opacity="0.12" filter="url(#b3)"/>
<rect x="1555.3" y="831.0" width="28.0" height="8.0" rx="4.0" fill="#000" fill-opacity="0.50" filter="url(#b2)"/>
<rect x="1590.2" y="813.0" width="30.0" height="14.0" rx="7.0" fill="#000" fill-opacity="0.55" filter="url(#b3)"/>
<rect x="1591.2" y="832.0" width="28.0" height="8.0" rx="4.0" fill="#000" fill-opacity="0.40" filter="url(#b3)"/>
<rect x="1629.0" y="813.0" width="30.0" height="14.0" rx="7.0" fill="#000" fill-opacity="0.70" filter="url(#b2)"/>
<rect x="1630.0" y="832.0" width="28.0" height="8.0" rx="4.0" fill="#000" fill-opacity="0.45" filter="url(#b3)"/>
<rect x="1668.8" y="798.0" width="28.0" height="14.0" rx="7.0" fill="#000" fill-opacity="0.25" filter="url(#b5)"/>
<rect x="1667.8" y="831.0" width="30.0" height="10.0" rx="5.0" fill="#000" fill-opacity="1.00" filter="url(#b2)"/>
<rect x="1706.6" y="797.0" width="30.0" height="30.0" rx="15.0" fill="#000" fill-opacity="0.38" filter="url(#b5)"/>
<rect x="1706.6" y="831.0" width="30.0" height="10.0" rx="5.0" fill="#000" fill-opacity="0.95" filter="url(#b2)"/>
<rect x="1742.4" y="803.0" width="30.0" height="24.0" rx="12.0" fill="#000" fill-opacity="0.30" filter="url(#b5)"/>
<rect x="1743.4" y="831.5" width="28.0" height="9.0" rx="4.5" fill="#000" fill-opacity="0.70" filter="url(#b2)"/>
<rect x="1781.0" y="781.0" width="30.0" height="12.0" rx="6.0" fill="#555" fill-opacity="0.18" filter="url(#b3)"/>
<rect x="1781.0" y="848.6" width="30.0" height="14.0" rx="7.0" fill="#555" fill-opacity="0.18" filter="url(#b3)"/>
</g>
<g clip-path="url(#clip_actin)">
<rect x="884.0" y="894.0" width="28.0" height="9.0" rx="4.5" fill="#000" fill-opacity="0.95" filter="url(#b2)"/>
<rect x="887.0" y="896.0" width="22.0" height="5.0" rx="2.5" fill="#000" fill-opacity="0.80" filter="url(#b1)"/>
<rect x="920.6" y="894.0" width="28.0" height="9.0" rx="4.5" fill="#000" fill-opacity="0.90" filter="url(#b2)"/>
<rect x="923.6" y="896.0" width="22.0" height="5.0" rx="2.5" fill="#000" fill-opacity="0.80" filter="url(#b1)"/>
<rect x="958.6" y="894.0" width="28.0" height="9.0" rx="4.5" fill="#000" fill-opacity="0.70" filter="url(#b2)"/>
<rect x="996.5" y="895.0" width="28.0" height="9.0" rx="4.5" fill="#000" fill-opacity="1.00" filter="url(#b2)"/>
<rect x="999.5" y="897.0" width="22.0" height="5.0" rx="2.5" fill="#000" fill-opacity="0.80" filter="url(#b1)"/>
<rect x="1034.5" y="895.0" width="28.0" height="9.0" rx="4.5" fill="#000" fill-opacity="1.00" filter="url(#b2)"/>
<rect x="1037.5" y="897.0" width="22.0" height="5.0" rx="2.5" fill="#000" fill-opacity="0.80" filter="url(#b1)"/>
<rect x="1072.4" y="895.0" width="28.0" height="9.0" rx="4.5" fill="#000" fill-opacity="0.80" filter="url(#b2)"/>
<rect x="1110.4" y="896.0" width="28.0" height="9.0" rx="4.5" fill="#000" fill-opacity="0.80" filter="url(#b2)"/>
<rect x="1146.9" y="896.0" width="28.0" height="9.0" rx="4.5" fill="#000" fill-opacity="0.85" filter="url(#b2)"/>
<rect x="1183.4" y="896.0" width="28.0" height="9.0" rx="4.5" fill="#000" fill-opacity="0.75" filter="url(#b2)"/>
<rect x="1221.4" y="896.5" width="28.0" height="9.0" rx="4.5" fill="#000" fill-opacity="0.95" filter="url(#b2)"/>
<rect x="1224.4" y="898.5" width="22.0" height="5.0" rx="2.5" fill="#000" fill-opacity="0.80" filter="url(#b1)"/>
<rect x="1257.9" y="896.5" width="28.0" height="9.0" rx="4.5" fill="#000" fill-opacity="0.85" filter="url(#b2)"/>
<rect x="1294.4" y="896.5" width="28.0" height="9.0" rx="4.5" fill="#000" fill-opacity="0.85" filter="url(#b2)"/>
<rect x="1331.4" y="898.5" width="28.0" height="9.0" rx="4.5" fill="#000" fill-opacity="0.95" filter="url(#b2)"/>
<rect x="1334.4" y="900.5" width="22.0" height="5.0" rx="2.5" fill="#000" fill-opacity="0.80" filter="url(#b1)"/>
<rect x="1368.7" y="898.5" width="28.0" height="9.0" rx="4.5" fill="#000" fill-opacity="0.95" filter="url(#b2)"/>
<rect x="1371.7" y="900.5" width="22.0" height="5.0" rx="2.5" fill="#000" fill-opacity="0.80" filter="url(#b1)"/>
<rect x="1404.5" y="898.5" width="28.0" height="9.0" rx="4.5" fill="#000" fill-opacity="0.95" filter="url(#b2)"/>
<rect x="1407.5" y="900.5" width="22.0" height="5.0" rx="2.5" fill="#000" fill-opacity="0.80" filter="url(#b1)"/>
<rect x="1443.4" y="898.9" width="28.0" height="9.0" rx="4.5" fill="#000" fill-opacity="1.00" filter="url(#b2)"/>
<rect x="1446.4" y="900.9" width="22.0" height="5.0" rx="2.5" fill="#000" fill-opacity="0.80" filter="url(#b1)"/>
<rect x="1479.2" y="898.9" width="28.0" height="9.0" rx="4.5" fill="#000" fill-opacity="1.00" filter="url(#b2)"/>
<rect x="1482.2" y="900.9" width="22.0" height="5.0" rx="2.5" fill="#000" fill-opacity="0.80" filter="url(#b1)"/>
<rect x="1516.5" y="898.9" width="28.0" height="9.0" rx="4.5" fill="#000" fill-opacity="0.95" filter="url(#b2)"/>
<rect x="1519.5" y="900.9" width="22.0" height="5.0" rx="2.5" fill="#000" fill-opacity="0.80" filter="url(#b1)"/>
<rect x="1555.3" y="898.9" width="28.0" height="9.0" rx="4.5" fill="#000" fill-opacity="0.90" filter="url(#b2)"/>
<rect x="1558.3" y="900.9" width="22.0" height="5.0" rx="2.5" fill="#000" fill-opacity="0.80" filter="url(#b1)"/>
<rect x="1591.2" y="898.9" width="28.0" height="9.0" rx="4.5" fill="#000" fill-opacity="0.80" filter="url(#b2)"/>
<rect x="1630.0" y="898.9" width="28.0" height="9.0" rx="4.5" fill="#000" fill-opacity="0.85" filter="url(#b2)"/>
<rect x="1668.8" y="895.9" width="28.0" height="9.0" rx="4.5" fill="#000" fill-opacity="0.80" filter="url(#b2)"/>
<rect x="1707.6" y="895.9" width="28.0" height="9.0" rx="4.5" fill="#000" fill-opacity="0.55" filter="url(#b2)"/>
<rect x="1743.4" y="895.9" width="28.0" height="9.0" rx="4.5" fill="#000" fill-opacity="1.00" filter="url(#b2)"/>
<rect x="1746.4" y="897.9" width="22.0" height="5.0" rx="2.5" fill="#000" fill-opacity="0.80" filter="url(#b1)"/>
<rect x="1782.0" y="914.0" width="28.0" height="14.0" rx="7.0" fill="#555" fill-opacity="0.20" filter="url(#b3)"/>
</g>
<g clip-path="url(#clip_h4)">
<rect x="879.0" y="1040.5" width="38.0" height="9.0" rx="4.5" fill="#000" fill-opacity="0.55" filter="url(#b3)"/>
<rect x="915.6" y="1040.5" width="38.0" height="9.0" rx="4.5" fill="#000" fill-opacity="0.85" filter="url(#b3)"/>
<rect x="953.6" y="1040.5" width="38.0" height="9.0" rx="4.5" fill="#000" fill-opacity="0.50" filter="url(#b3)"/>
<rect x="991.5" y="1038.5" width="38.0" height="9.0" rx="4.5" fill="#000" fill-opacity="0.30" filter="url(#b3)"/>
<rect x="1029.5" y="1038.5" width="38.0" height="9.0" rx="4.5" fill="#000" fill-opacity="0.80" filter="url(#b3)"/>
<rect x="1067.4" y="1038.5" width="38.0" height="9.0" rx="4.5" fill="#000" fill-opacity="0.30" filter="url(#b3)"/>
<rect x="1105.4" y="1036.5" width="38.0" height="9.0" rx="4.5" fill="#000" fill-opacity="0.85" filter="url(#b3)"/>
<rect x="1141.9" y="1036.5" width="38.0" height="9.0" rx="4.5" fill="#000" fill-opacity="0.85" filter="url(#b3)"/>
<rect x="1178.4" y="1036.5" width="38.0" height="9.0" rx="4.5" fill="#000" fill-opacity="0.80" filter="url(#b3)"/>
<rect x="1216.4" y="1035.5" width="38.0" height="9.0" rx="4.5" fill="#000" fill-opacity="0.85" filter="url(#b3)"/>
<rect x="1252.9" y="1035.5" width="38.0" height="9.0" rx="4.5" fill="#000" fill-opacity="0.90" filter="url(#b3)"/>
<rect x="1289.4" y="1035.5" width="38.0" height="9.0" rx="4.5" fill="#000" fill-opacity="0.80" filter="url(#b3)"/>
<rect x="1324.4" y="1034.0" width="38.0" height="9.0" rx="4.5" fill="#000" fill-opacity="0.95" filter="url(#b3)"/>
<rect x="1361.3" y="1034.0" width="38.0" height="9.0" rx="4.5" fill="#000" fill-opacity="0.80" filter="url(#b3)"/>
<rect x="1398.2" y="1034.0" width="38.0" height="9.0" rx="4.5" fill="#000" fill-opacity="0.75" filter="url(#b3)"/>
<rect x="1433.0" y="1034.5" width="38.0" height="9.0" rx="4.5" fill="#000" fill-opacity="0.35" filter="url(#b3)"/>
<rect x="1470.0" y="1034.5" width="38.0" height="9.0" rx="4.5" fill="#000" fill-opacity="0.65" filter="url(#b3)"/>
<rect x="1504.8" y="1034.5" width="38.0" height="9.0" rx="4.5" fill="#000" fill-opacity="0.25" filter="url(#b3)"/>
<rect x="1541.7" y="1035.5" width="38.0" height="9.0" rx="4.5" fill="#000" fill-opacity="0.60" filter="url(#b3)"/>
<rect x="1578.5" y="1035.5" width="38.0" height="9.0" rx="4.5" fill="#000" fill-opacity="0.55" filter="url(#b3)"/>
<rect x="1619.5" y="1035.5" width="38.0" height="9.0" rx="4.5" fill="#000" fill-opacity="0.50" filter="url(#b3)"/>
<rect x="1656.4" y="1039.5" width="38.0" height="9.0" rx="4.5" fill="#000" fill-opacity="1.00" filter="url(#b3)"/>
<rect x="1697.4" y="1039.5" width="38.0" height="9.0" rx="4.5" fill="#000" fill-opacity="0.95" filter="url(#b3)"/>
<rect x="1743.0" y="1039.5" width="38.0" height="9.0" rx="4.5" fill="#000" fill-opacity="1.00" filter="url(#b3)"/>
<rect x="1764.0" y="1041.0" width="22.0" height="10.0" rx="5.0" fill="#000" fill-opacity="0.90" filter="url(#b2)"/>
</g>
<g clip-path="url(#clip_h3)">
<rect x="880.5" y="1144.0" width="35.0" height="9.0" rx="4.5" fill="#000" fill-opacity="0.95" filter="url(#b2)"/>
<rect x="917.1" y="1144.0" width="35.0" height="9.0" rx="4.5" fill="#000" fill-opacity="0.90" filter="url(#b2)"/>
<rect x="955.1" y="1144.0" width="35.0" height="9.0" rx="4.5" fill="#000" fill-opacity="0.90" filter="url(#b2)"/>
<rect x="993.0" y="1144.0" width="35.0" height="9.0" rx="4.5" fill="#000" fill-opacity="0.85" filter="url(#b2)"/>
<rect x="1031.0" y="1144.0" width="35.0" height="9.0" rx="4.5" fill="#000" fill-opacity="0.75" filter="url(#b2)"/>
<rect x="1068.9" y="1144.0" width="35.0" height="9.0" rx="4.5" fill="#000" fill-opacity="0.60" filter="url(#b2)"/>
<rect x="1106.9" y="1144.0" width="35.0" height="9.0" rx="4.5" fill="#000" fill-opacity="0.75" filter="url(#b2)"/>
<rect x="1143.4" y="1144.0" width="35.0" height="9.0" rx="4.5" fill="#000" fill-opacity="0.80" filter="url(#b2)"/>
<rect x="1179.9" y="1144.0" width="35.0" height="9.0" rx="4.5" fill="#000" fill-opacity="0.70" filter="url(#b2)"/>
<rect x="1217.9" y="1144.0" width="35.0" height="9.0" rx="4.5" fill="#000" fill-opacity="0.85" filter="url(#b2)"/>
<rect x="1254.4" y="1144.0" width="35.0" height="9.0" rx="4.5" fill="#000" fill-opacity="0.85" filter="url(#b2)"/>
<rect x="1290.9" y="1144.0" width="35.0" height="9.0" rx="4.5" fill="#000" fill-opacity="0.85" filter="url(#b2)"/>
<rect x="1325.9" y="1144.0" width="35.0" height="9.0" rx="4.5" fill="#000" fill-opacity="0.95" filter="url(#b2)"/>
<rect x="1362.8" y="1144.0" width="35.0" height="9.0" rx="4.5" fill="#000" fill-opacity="0.85" filter="url(#b2)"/>
<rect x="1399.7" y="1144.0" width="35.0" height="9.0" rx="4.5" fill="#000" fill-opacity="0.70" filter="url(#b2)"/>
<rect x="1434.5" y="1144.0" width="35.0" height="9.0" rx="4.5" fill="#000" fill-opacity="0.85" filter="url(#b2)"/>
<rect x="1471.5" y="1144.0" width="35.0" height="9.0" rx="4.5" fill="#000" fill-opacity="0.80" filter="url(#b2)"/>
<rect x="1506.3" y="1144.0" width="35.0" height="9.0" rx="4.5" fill="#000" fill-opacity="0.75" filter="url(#b2)"/>
<rect x="1543.2" y="1144.0" width="35.0" height="9.0" rx="4.5" fill="#000" fill-opacity="0.75" filter="url(#b2)"/>
<rect x="1580.0" y="1144.0" width="35.0" height="9.0" rx="4.5" fill="#000" fill-opacity="0.65" filter="url(#b2)"/>
<rect x="1621.0" y="1144.0" width="35.0" height="9.0" rx="4.5" fill="#000" fill-opacity="1.00" filter="url(#b2)"/>
<rect x="1657.9" y="1145.5" width="35.0" height="9.0" rx="4.5" fill="#000" fill-opacity="0.95" filter="url(#b2)"/>
<rect x="1698.9" y="1145.5" width="35.0" height="9.0" rx="4.5" fill="#000" fill-opacity="0.90" filter="url(#b2)"/>
<rect x="1744.5" y="1145.5" width="35.0" height="9.0" rx="4.5" fill="#000" fill-opacity="1.00" filter="url(#b2)"/>
<rect x="1764.0" y="1145.5" width="22.0" height="11.0" rx="5.5" fill="#000" fill-opacity="1.00" filter="url(#b2)"/>
</g>
<rect x="878.0" y="654.0" width="941.2" height="114.1" fill="none" stroke="#141414" stroke-width="4.0"/>
<rect x="878.0" y="783.9" width="941.2" height="82.3" fill="none" stroke="#141414" stroke-width="4.0"/>
<rect x="878.0" y="882.9" width="941.2" height="93.3" fill="none" stroke="#141414" stroke-width="4.0"/>
<rect x="878.0" y="992.4" width="941.2" height="84.8" fill="none" stroke="#141414" stroke-width="4.0"/>
<rect x="878.0" y="1095.4" width="941.2" height="84.3" fill="none" stroke="#141414" stroke-width="4.0"/>
<line x1="993.3" y1="620.0" x2="993.3" y2="1297.0" stroke="#181818" stroke-width="2.2" stroke-dasharray="7 4.2"/>
<line x1="1104.2" y1="620.0" x2="1104.2" y2="1297.0" stroke="#181818" stroke-width="2.2" stroke-dasharray="7 4.2"/>
<line x1="1215.1" y1="620.0" x2="1215.1" y2="1297.0" stroke="#181818" stroke-width="2.2" stroke-dasharray="7 4.2"/>
<line x1="1326.2" y1="620.0" x2="1326.2" y2="1297.0" stroke="#181818" stroke-width="2.2" stroke-dasharray="7 4.2"/>
<line x1="1437.0" y1="620.0" x2="1437.0" y2="1297.0" stroke="#181818" stroke-width="2.2" stroke-dasharray="7 4.2"/>
<line x1="1548.3" y1="620.0" x2="1548.3" y2="1297.0" stroke="#181818" stroke-width="2.2" stroke-dasharray="7 4.2"/>
<line x1="1658.9" y1="620.0" x2="1658.9" y2="1297.0" stroke="#181818" stroke-width="2.2" stroke-dasharray="7 4.2"/>
<text x="808.5" y="711.8" font-size="29" text-anchor="end" fill="#181818">Flag</text>
<line x1="814.8" y1="706.5" x2="858.0" y2="706.5" stroke="#181818" stroke-width="3.6"/>
<polygon points="852,698.5 873,706.5 852,714.5 856,706.5" fill="#181818"/>
<text x="808.5" y="813.0" font-size="29" text-anchor="end" fill="#181818">Flag-tagged MOF</text>
<line x1="814.8" y1="810.0" x2="858.0" y2="810.0" stroke="#181818" stroke-width="3.6"/>
<polygon points="852,802.0 873,810.0 852,818.0 856,810.0" fill="#181818"/>
<text x="808.5" y="846.0" font-size="29" text-anchor="end" fill="#181818">endogenous MOF</text>
<line x1="814.8" y1="834.8" x2="858.0" y2="834.8" stroke="#181818" stroke-width="3.6"/>
<polygon points="852,826.8 873,834.8 852,842.8 856,834.8" fill="#181818"/>
<text x="808.5" y="911.0" font-size="29" text-anchor="end" fill="#181818">Actin</text>
<line x1="814.8" y1="900.3" x2="858.0" y2="900.3" stroke="#181818" stroke-width="3.6"/>
<polygon points="852,892.3 873,900.3 852,908.3 856,900.3" fill="#181818"/>
<text x="808.5" y="1053.5" font-size="29" text-anchor="end" fill="#181818">H4K16ac</text>
<line x1="814.8" y1="1044.5" x2="858.0" y2="1044.5" stroke="#181818" stroke-width="3.6"/>
<polygon points="852,1036.5 873,1044.5 852,1052.5 856,1044.5" fill="#181818"/>
<text x="808.5" y="1157.0" font-size="29" text-anchor="end" fill="#181818">H3</text>
<line x1="814.8" y1="1147.2" x2="858.0" y2="1147.2" stroke="#181818" stroke-width="3.6"/>
<polygon points="852,1139.2 873,1147.2 852,1155.2 856,1147.2" fill="#181818"/>
<text x="1826.5" y="684.0" font-size="28.5" text-anchor="start" fill="#181818">75</text>
<text x="1826.5" y="764.0" font-size="28.5" text-anchor="start" fill="#181818">50</text>
<text x="1826.5" y="805.0" font-size="28.5" text-anchor="start" fill="#181818">75</text>
<text x="1826.5" y="870.5" font-size="28.5" text-anchor="start" fill="#181818">50</text>
<text x="1826.5" y="932.0" font-size="28.5" text-anchor="start" fill="#181818">37</text>
<text x="1826.5" y="1010.0" font-size="28.5" text-anchor="start" fill="#181818">20</text>
<text x="1826.5" y="1115.7" font-size="28.5" text-anchor="start" fill="#181818">20</text>
<text x="905.1" y="1193.5" font-size="28.5" text-anchor="end" fill="#181818" transform="rotate(-90 905.1 1193.5)">vector</text>
<text x="942.5" y="1193.5" font-size="28.5" text-anchor="end" fill="#12592e" transform="rotate(-90 942.5 1193.5)">+wt MOF</text>
<text x="979.0" y="1193.5" font-size="28.5" text-anchor="end" fill="#b5212a" transform="rotate(-90 979.0 1193.5)">+E350Q</text>
<text x="1017.6" y="1193.5" font-size="28.5" text-anchor="end" fill="#181818" transform="rotate(-90 1017.6 1193.5)">vector</text>
<text x="1055.5" y="1193.5" font-size="28.5" text-anchor="end" fill="#12592e" transform="rotate(-90 1055.5 1193.5)">+wt MOF</text>
<text x="1093.0" y="1193.5" font-size="28.5" text-anchor="end" fill="#b5212a" transform="rotate(-90 1093.0 1193.5)">+E350Q</text>
<text x="1134.2" y="1193.5" font-size="28.5" text-anchor="end" fill="#181818" transform="rotate(-90 1134.2 1193.5)">vector</text>
<text x="1169.3" y="1193.5" font-size="28.5" text-anchor="end" fill="#12592e" transform="rotate(-90 1169.3 1193.5)">+wt MOF</text>
<text x="1207.0" y="1193.5" font-size="28.5" text-anchor="end" fill="#b5212a" transform="rotate(-90 1207.0 1193.5)">+E350Q</text>
<text x="1239.6" y="1193.5" font-size="28.5" text-anchor="end" fill="#181818" transform="rotate(-90 1239.6 1193.5)">vector</text>
<text x="1281.7" y="1193.5" font-size="28.5" text-anchor="end" fill="#12592e" transform="rotate(-90 1281.7 1193.5)">+wt MOF</text>
<text x="1319.0" y="1193.5" font-size="28.5" text-anchor="end" fill="#b5212a" transform="rotate(-90 1319.0 1193.5)">+E350Q</text>
<text x="1353.7" y="1193.5" font-size="28.5" text-anchor="end" fill="#181818" transform="rotate(-90 1353.7 1193.5)">vector</text>
<text x="1390.3" y="1193.5" font-size="28.5" text-anchor="end" fill="#12592e" transform="rotate(-90 1390.3 1193.5)">+wt MOF</text>
<text x="1427.5" y="1193.5" font-size="28.5" text-anchor="end" fill="#b5212a" transform="rotate(-90 1427.5 1193.5)">+E350Q</text>
<text x="1470.4" y="1193.5" font-size="28.5" text-anchor="end" fill="#181818" transform="rotate(-90 1470.4 1193.5)">vector</text>
<text x="1504.1" y="1193.5" font-size="28.5" text-anchor="end" fill="#12592e" transform="rotate(-90 1504.1 1193.5)">+wt MOF</text>
<text x="1535.8" y="1193.5" font-size="28.5" text-anchor="end" fill="#b5212a" transform="rotate(-90 1535.8 1193.5)">+E350Q</text>
<text x="1580.0" y="1193.5" font-size="28.5" text-anchor="end" fill="#181818" transform="rotate(-90 1580.0 1193.5)">vector</text>
<text x="1613.7" y="1193.5" font-size="28.5" text-anchor="end" fill="#12592e" transform="rotate(-90 1613.7 1193.5)">+wt MOF</text>
<text x="1645.5" y="1193.5" font-size="28.5" text-anchor="end" fill="#b5212a" transform="rotate(-90 1645.5 1193.5)">+E350Q</text>
<text x="1693.8" y="1193.5" font-size="28.5" text-anchor="end" fill="#181818" transform="rotate(-90 1693.8 1193.5)">vector</text>
<text x="1731.7" y="1193.5" font-size="28.5" text-anchor="end" fill="#12592e" transform="rotate(-90 1731.7 1193.5)">+wt MOF</text>
<text x="1772.0" y="1193.5" font-size="28.5" text-anchor="end" fill="#b5212a" transform="rotate(-90 1772.0 1193.5)">+E350Q</text>
<text x="9.0" y="1378.5" font-size="50" text-anchor="start" fill="#181818">g</text>
<text x="264.0" y="1389.0" font-size="37.5" text-anchor="middle" fill="#181818">Flag</text>
<text x="48.7" y="1608.0" font-size="29" text-anchor="middle" fill="#181818" transform="rotate(-90 48.7 1608.0)">relative protein levels ± SEM</text>
<rect x="182.9" y="1729.6" width="39.0" height="38.8" fill="#eef5e3" stroke="#181818" stroke-width="4.3" stroke-linejoin="miter"/>
<rect x="221.9" y="1707.0" width="39.0" height="61.5" fill="#fbe0d4" stroke="#181818" stroke-width="4.3" stroke-linejoin="miter"/>
<rect x="339.3" y="1670.8" width="38.1" height="97.7" fill="#0b6a35" stroke="#181818" stroke-width="4.3" stroke-linejoin="miter"/>
<rect x="377.4" y="1609.1" width="38.2" height="159.3" fill="#e0262c" stroke="#181818" stroke-width="4.3" stroke-linejoin="miter"/>
<line x1="123.9" y1="1451.5" x2="123.9" y2="1777.6" stroke="#181818" stroke-width="4.6"/>
<line x1="107.8" y1="1768.4" x2="441.4" y2="1768.4" stroke="#181818" stroke-width="4.6"/>
<line x1="439.1" y1="1768.4" x2="439.1" y2="1777.6" stroke="#181818" stroke-width="4.6"/>
<line x1="280.3" y1="1768.4" x2="280.3" y2="1777.6" stroke="#181818" stroke-width="4.6"/>
<line x1="107.8" y1="1768.4" x2="123.9" y2="1768.4" stroke="#181818" stroke-width="4.6"/>
<text x="104.6" y="1778.0" font-size="28.5" text-anchor="end" fill="#181818">0</text>
<line x1="107.8" y1="1689.8" x2="123.9" y2="1689.8" stroke="#181818" stroke-width="4.6"/>
<text x="104.6" y="1699.3" font-size="28.5" text-anchor="end" fill="#181818">10</text>
<line x1="107.8" y1="1611.1" x2="123.9" y2="1611.1" stroke="#181818" stroke-width="4.6"/>
<text x="104.6" y="1620.7" font-size="28.5" text-anchor="end" fill="#181818">20</text>
<line x1="107.8" y1="1532.5" x2="123.9" y2="1532.5" stroke="#181818" stroke-width="4.6"/>
<text x="104.6" y="1542.0" font-size="28.5" text-anchor="end" fill="#181818">30</text>
<line x1="107.8" y1="1453.8" x2="123.9" y2="1453.8" stroke="#181818" stroke-width="4.6"/>
<text x="104.6" y="1463.4" font-size="28.5" text-anchor="end" fill="#181818">40</text>
<line x1="202.5" y1="1727.4" x2="202.5" y2="1720.7" stroke="#181818" stroke-width="3.6"/>
<line x1="196.8" y1="1721.2" x2="208.2" y2="1721.2" stroke="#181818" stroke-width="4.0"/>
<line x1="241.4" y1="1704.8" x2="241.4" y2="1696.1" stroke="#181818" stroke-width="3.6"/>
<line x1="235.7" y1="1696.6" x2="247.2" y2="1696.6" stroke="#181818" stroke-width="4.0"/>
<line x1="357.2" y1="1668.6" x2="357.2" y2="1652.0" stroke="#181818" stroke-width="3.6"/>
<line x1="351.4" y1="1652.5" x2="362.9" y2="1652.5" stroke="#181818" stroke-width="4.0"/>
<line x1="396.1" y1="1606.9" x2="396.1" y2="1567.4" stroke="#181818" stroke-width="3.6"/>
<line x1="390.4" y1="1567.9" x2="401.9" y2="1567.9" stroke="#181818" stroke-width="4.0"/>
<polyline points="323.4,1749.9 323.4,1429.8 395.0,1429.8 395.0,1452.8" stroke="#e0262c" stroke-width="3.4" fill="none" stroke-linejoin="miter" stroke-linecap="butt"/>
<polyline points="323.4,1560.0 358.6,1560.0 358.6,1598.3" stroke="#e0262c" stroke-width="3.4" fill="none" stroke-linejoin="miter" stroke-linecap="butt"/>
<circle cx="148.2" cy="1765.3" r="5.5" fill="#fff" stroke="#181818" stroke-width="2.35"/>
<circle cx="158.4" cy="1763.9" r="5.5" fill="#fff" stroke="#181818" stroke-width="2.35"/>
<circle cx="167.6" cy="1765.9" r="5.5" fill="#fff" stroke="#181818" stroke-width="2.35"/>
<circle cx="176.2" cy="1764.9" r="5.5" fill="#fff" stroke="#181818" stroke-width="2.35"/>
<circle cx="202.5" cy="1705.2" r="5.5" fill="#fff" stroke="#181818" stroke-width="2.35"/>
<circle cx="191.2" cy="1751.0" r="5.5" fill="#fff" stroke="#181818" stroke-width="2.35"/>
<circle cx="202.5" cy="1738.6" r="5.5" fill="#fff" stroke="#181818" stroke-width="2.35"/>
<circle cx="216.4" cy="1738.6" r="5.5" fill="#fff" stroke="#181818" stroke-width="2.35"/>
<circle cx="230.1" cy="1691.5" r="5.5" fill="#fff" stroke="#181818" stroke-width="2.35"/>
<circle cx="252.7" cy="1691.5" r="5.5" fill="#fff" stroke="#181818" stroke-width="2.35"/>
<circle cx="241.4" cy="1713.4" r="5.5" fill="#fff" stroke="#181818" stroke-width="2.35"/>
<circle cx="241.4" cy="1737.6" r="5.5" fill="#fff" stroke="#181818" stroke-width="2.35"/>
<circle cx="305.5" cy="1766.9" r="5.5" fill="#fff" stroke="#181818" stroke-width="2.35"/>
<circle cx="314.1" cy="1765.3" r="5.5" fill="#fff" stroke="#181818" stroke-width="2.35"/>
<circle cx="321.9" cy="1766.9" r="5.5" fill="#fff" stroke="#181818" stroke-width="2.35"/>
<circle cx="329.5" cy="1765.3" r="5.5" fill="#fff" stroke="#181818" stroke-width="2.35"/>
<circle cx="357.2" cy="1623.9" r="5.5" fill="#fff" stroke="#181818" stroke-width="2.35"/>
<circle cx="346.9" cy="1671.6" r="5.5" fill="#fff" stroke="#181818" stroke-width="2.35"/>
<circle cx="368.4" cy="1674.1" r="5.5" fill="#fff" stroke="#181818" stroke-width="2.35"/>
<circle cx="357.2" cy="1720.2" r="5.5" fill="#fff" stroke="#181818" stroke-width="2.35"/>
<circle cx="396.1" cy="1481.5" r="5.5" fill="#fff" stroke="#181818" stroke-width="2.35"/>
<circle cx="396.1" cy="1620.4" r="5.5" fill="#fff" stroke="#181818" stroke-width="2.35"/>
<circle cx="384.8" cy="1672.5" r="5.5" fill="#fff" stroke="#181818" stroke-width="2.35"/>
<circle cx="407.8" cy="1661.4" r="5.5" fill="#fff" stroke="#181818" stroke-width="2.35"/>
<text x="359.4" y="1434.0" font-size="41" text-anchor="middle" fill="#e0262c" letter-spacing="1.5">*</text>
<text x="345.6" y="1556.3" font-size="41" text-anchor="middle" fill="#e0262c" letter-spacing="1.5">**</text>
<text x="171.3" y="1779.5" font-size="28.5" text-anchor="end" fill="#181818" transform="rotate(-90 171.3 1779.5)">vector</text>
<text x="212.2" y="1779.5" font-size="28.5" text-anchor="end" fill="#14693a" transform="rotate(-90 212.2 1779.5)">+WT MOF</text>
<text x="253.5" y="1779.5" font-size="28.5" text-anchor="end" fill="#e0302c" transform="rotate(-90 253.5 1779.5)">+E350Q</text>
<text x="328.5" y="1779.5" font-size="28.5" text-anchor="end" fill="#181818" transform="rotate(-90 328.5 1779.5)">vector</text>
<text x="368.9" y="1779.5" font-size="28.5" text-anchor="end" fill="#14693a" transform="rotate(-90 368.9 1779.5)">+WT MOF</text>
<text x="410.0" y="1779.5" font-size="28.5" text-anchor="end" fill="#e0302c" transform="rotate(-90 410.0 1779.5)">+E350Q</text>
<text x="199.4" y="1943.0" font-size="28.5" text-anchor="middle" fill="#181818">WT</text>
<text x="356.2" y="1943.0" font-size="28.5" text-anchor="middle" fill="#181818"><tspan font-style="italic">Mof</tspan> KO</text>
<text x="496.0" y="1378.5" font-size="50" text-anchor="start" fill="#181818">h</text>
<text x="768.1" y="1389.0" font-size="37.5" text-anchor="middle" fill="#181818">Total MOF levels</text>
<text x="768.1" y="1423.6" font-size="28.2" text-anchor="middle" fill="#181818">(endogenous + viral)</text>
<text x="531.0" y="1606.7" font-size="29" text-anchor="middle" fill="#181818" transform="rotate(-90 531.0 1606.7)">relative protein levels ± SEM</text>
<rect x="629.5" y="1641.1" width="37.6" height="126.9" fill="#fff" stroke="#181818" stroke-width="4.3" stroke-linejoin="miter"/>
<rect x="667.1" y="1596.0" width="41.0" height="172.0" fill="#eef5e3" stroke="#181818" stroke-width="4.3" stroke-linejoin="miter"/>
<rect x="708.1" y="1621.4" width="36.3" height="146.6" fill="#fbe0d4" stroke="#181818" stroke-width="4.3" stroke-linejoin="miter"/>
<rect x="784.9" y="1737.8" width="37.9" height="30.2" fill="#181818" stroke="#181818" stroke-width="4.3" stroke-linejoin="miter"/>
<rect x="822.8" y="1671.8" width="37.9" height="96.2" fill="#0b6a35" stroke="#181818" stroke-width="4.3" stroke-linejoin="miter"/>
<rect x="860.7" y="1623.6" width="38.6" height="144.4" fill="#e0262c" stroke="#181818" stroke-width="4.3" stroke-linejoin="miter"/>
<line x1="607.7" y1="1450.5" x2="607.7" y2="1776.6" stroke="#181818" stroke-width="4.6"/>
<line x1="591.3" y1="1768.0" x2="924.5" y2="1768.0" stroke="#181818" stroke-width="4.6"/>
<line x1="922.2" y1="1768.0" x2="922.2" y2="1776.6" stroke="#181818" stroke-width="4.6"/>
<line x1="765.5" y1="1768.0" x2="765.5" y2="1776.6" stroke="#181818" stroke-width="4.6"/>
<line x1="591.3" y1="1768.0" x2="607.7" y2="1768.0" stroke="#181818" stroke-width="4.6"/>
<text x="588.1" y="1777.6" font-size="28.5" text-anchor="end" fill="#181818">0</text>
<line x1="591.3" y1="1705.0" x2="607.7" y2="1705.0" stroke="#181818" stroke-width="4.6"/>
<text x="588.1" y="1714.6" font-size="28.5" text-anchor="end" fill="#181818">0.5</text>
<line x1="591.3" y1="1641.9" x2="607.7" y2="1641.9" stroke="#181818" stroke-width="4.6"/>
<text x="588.1" y="1651.5" font-size="28.5" text-anchor="end" fill="#181818">1.0</text>
<line x1="591.3" y1="1578.9" x2="607.7" y2="1578.9" stroke="#181818" stroke-width="4.6"/>
<text x="588.1" y="1588.5" font-size="28.5" text-anchor="end" fill="#181818">1.5</text>
<line x1="591.3" y1="1515.8" x2="607.7" y2="1515.8" stroke="#181818" stroke-width="4.6"/>
<text x="588.1" y="1525.4" font-size="28.5" text-anchor="end" fill="#181818">2.0</text>
<line x1="591.3" y1="1452.8" x2="607.7" y2="1452.8" stroke="#181818" stroke-width="4.6"/>
<text x="588.1" y="1462.4" font-size="28.5" text-anchor="end" fill="#181818">2.5</text>
<line x1="649.7" y1="1638.9" x2="649.7" y2="1629.5" stroke="#181818" stroke-width="3.6"/>
<line x1="644.0" y1="1630.0" x2="655.5" y2="1630.0" stroke="#181818" stroke-width="4.0"/>
<line x1="686.6" y1="1593.8" x2="686.6" y2="1562.9" stroke="#181818" stroke-width="3.6"/>
<line x1="680.9" y1="1563.4" x2="692.4" y2="1563.4" stroke="#181818" stroke-width="4.0"/>
<line x1="726.5" y1="1619.2" x2="726.5" y2="1605.9" stroke="#181818" stroke-width="3.6"/>
<line x1="720.8" y1="1606.4" x2="732.2" y2="1606.4" stroke="#181818" stroke-width="4.0"/>
<line x1="804.4" y1="1735.6" x2="804.4" y2="1724.4" stroke="#181818" stroke-width="3.6"/>
<line x1="798.6" y1="1724.9" x2="810.1" y2="1724.9" stroke="#181818" stroke-width="4.0"/>
<line x1="842.3" y1="1669.6" x2="842.3" y2="1655.7" stroke="#181818" stroke-width="3.6"/>
<line x1="836.5" y1="1656.2" x2="848.0" y2="1656.2" stroke="#181818" stroke-width="4.0"/>
<line x1="881.2" y1="1621.4" x2="881.2" y2="1590.1" stroke="#181818" stroke-width="3.6"/>
<line x1="875.5" y1="1590.6" x2="887.0" y2="1590.6" stroke="#181818" stroke-width="4.0"/>
<polyline points="650.7,1590.0 650.7,1483.5 791.7,1483.5 791.7,1705.9" stroke="#e0262c" stroke-width="3.4" fill="none" stroke-linejoin="miter" stroke-linecap="butt"/>
<polyline points="812.2,1705.9 812.2,1485.2 882.9,1485.2 882.9,1507.1" stroke="#e0262c" stroke-width="3.4" fill="none" stroke-linejoin="miter" stroke-linecap="butt"/>
<polyline points="812.2,1530.0 842.3,1530.0 842.3,1612.6" stroke="#e0262c" stroke-width="3.4" fill="none" stroke-linejoin="miter" stroke-linecap="butt"/>
<circle cx="649.7" cy="1603.8" r="5.5" fill="#fff" stroke="#181818" stroke-width="2.35"/>
<circle cx="637.4" cy="1649.5" r="5.5" fill="#fff" stroke="#181818" stroke-width="2.35"/>
<circle cx="649.7" cy="1647.5" r="5.5" fill="#fff" stroke="#181818" stroke-width="2.35"/>
<circle cx="661.6" cy="1649.5" r="5.5" fill="#fff" stroke="#181818" stroke-width="2.35"/>
<circle cx="686.6" cy="1500.3" r="5.5" fill="#fff" stroke="#181818" stroke-width="2.35"/>
<circle cx="686.6" cy="1587.0" r="5.5" fill="#fff" stroke="#181818" stroke-width="2.35"/>
<circle cx="686.6" cy="1622.3" r="5.5" fill="#fff" stroke="#181818" stroke-width="2.35"/>
<circle cx="686.6" cy="1660.4" r="5.5" fill="#fff" stroke="#181818" stroke-width="2.35"/>
<circle cx="726.1" cy="1574.7" r="5.5" fill="#fff" stroke="#181818" stroke-width="2.35"/>
<circle cx="716.9" cy="1620.4" r="5.5" fill="#fff" stroke="#181818" stroke-width="2.35"/>
<circle cx="735.1" cy="1630.0" r="5.5" fill="#fff" stroke="#181818" stroke-width="2.35"/>
<circle cx="716.9" cy="1643.8" r="5.5" fill="#fff" stroke="#181818" stroke-width="2.35"/>
<circle cx="794.1" cy="1725.3" r="5.5" fill="#fff" stroke="#181818" stroke-width="2.35"/>
<circle cx="813.6" cy="1729.4" r="5.5" fill="#fff" stroke="#181818" stroke-width="2.35"/>
<circle cx="804.0" cy="1734.5" r="5.5" fill="#fff" stroke="#181818" stroke-width="2.35"/>
<circle cx="804.0" cy="1755.7" r="5.5" fill="#fff" stroke="#181818" stroke-width="2.35"/>
<circle cx="842.3" cy="1630.0" r="5.5" fill="#fff" stroke="#181818" stroke-width="2.35"/>
<circle cx="833.5" cy="1667.3" r="5.5" fill="#fff" stroke="#181818" stroke-width="2.35"/>
<circle cx="851.5" cy="1668.0" r="5.5" fill="#fff" stroke="#181818" stroke-width="2.35"/>
<circle cx="842.3" cy="1713.0" r="5.5" fill="#fff" stroke="#181818" stroke-width="2.35"/>
<circle cx="881.2" cy="1526.6" r="5.5" fill="#fff" stroke="#181818" stroke-width="2.35"/>
<circle cx="881.2" cy="1608.1" r="5.5" fill="#fff" stroke="#181818" stroke-width="2.35"/>
<circle cx="871.4" cy="1677.2" r="5.5" fill="#fff" stroke="#181818" stroke-width="2.35"/>
<circle cx="890.9" cy="1667.5" r="5.5" fill="#fff" stroke="#181818" stroke-width="2.35"/>
<text x="724.1" y="1486.5" font-size="41" text-anchor="middle" fill="#e0262c" letter-spacing="1.5">***</text>
<text x="848.1" y="1491.5" font-size="41" text-anchor="middle" fill="#e0262c" letter-spacing="1.5">*</text>
<text x="828.8" y="1535.5" font-size="41" text-anchor="middle" fill="#e0262c" letter-spacing="1.5">*</text>
<text x="655.7" y="1776.0" font-size="28.5" text-anchor="end" fill="#181818" transform="rotate(-90 655.7 1776.0)">vector</text>
<text x="697.5" y="1776.0" font-size="28.5" text-anchor="end" fill="#14693a" transform="rotate(-90 697.5 1776.0)">+WT MOF</text>
<text x="738.3" y="1776.0" font-size="28.5" text-anchor="end" fill="#e0302c" transform="rotate(-90 738.3 1776.0)">+E350Q</text>
<text x="813.0" y="1776.0" font-size="28.5" text-anchor="end" fill="#181818" transform="rotate(-90 813.0 1776.0)">vector</text>
<text x="854.4" y="1776.0" font-size="28.5" text-anchor="end" fill="#14693a" transform="rotate(-90 854.4 1776.0)">+WT MOF</text>
<text x="894.8" y="1776.0" font-size="28.5" text-anchor="end" fill="#e0302c" transform="rotate(-90 894.8 1776.0)">+E350Q</text>
<text x="684.1" y="1939.2" font-size="28.5" text-anchor="middle" fill="#181818">WT</text>
<text x="839.4" y="1939.2" font-size="28.5" text-anchor="middle" fill="#181818"><tspan font-style="italic">Mof</tspan> KO</text>
<text x="987.5" y="1376.5" font-size="50" text-anchor="start" fill="#181818">i</text>
<text x="1252.3" y="1389.5" font-size="37.5" text-anchor="middle" fill="#181818">Endogenous MOF</text>
<text x="1011.5" y="1601.5" font-size="29" text-anchor="middle" fill="#181818" transform="rotate(-90 1011.5 1601.5)">relative protein levels ± SEM</text>
<rect x="1113.7" y="1558.1" width="37.0" height="205.4" fill="#fff" stroke="#181818" stroke-width="4.3" stroke-linejoin="miter"/>
<rect x="1150.7" y="1553.2" width="41.3" height="210.3" fill="#eef5e3" stroke="#181818" stroke-width="4.3" stroke-linejoin="miter"/>
<rect x="1192.0" y="1603.8" width="36.6" height="159.8" fill="#fbe0d4" stroke="#181818" stroke-width="4.3" stroke-linejoin="miter"/>
<rect x="1269.9" y="1723.2" width="37.9" height="40.3" fill="#181818" stroke="#181818" stroke-width="4.3" stroke-linejoin="miter"/>
<rect x="1307.8" y="1725.7" width="36.9" height="37.8" fill="#0b6a35" stroke="#181818" stroke-width="4.3" stroke-linejoin="miter"/>
<rect x="1344.7" y="1708.7" width="38.4" height="54.8" fill="#e0262c" stroke="#181818" stroke-width="4.3" stroke-linejoin="miter"/>
<line x1="1090.6" y1="1446.6" x2="1090.6" y2="1772.7" stroke="#181818" stroke-width="4.6"/>
<line x1="1074.2" y1="1763.5" x2="1408.5" y2="1763.5" stroke="#181818" stroke-width="4.6"/>
<line x1="1406.2" y1="1763.5" x2="1406.2" y2="1772.7" stroke="#181818" stroke-width="4.6"/>
<line x1="1248.0" y1="1763.5" x2="1248.0" y2="1772.7" stroke="#181818" stroke-width="4.6"/>
<line x1="1074.2" y1="1763.5" x2="1090.6" y2="1763.5" stroke="#181818" stroke-width="4.6"/>
<text x="1071.0" y="1773.1" font-size="28.5" text-anchor="end" fill="#181818">0</text>
<line x1="1074.2" y1="1700.6" x2="1090.6" y2="1700.6" stroke="#181818" stroke-width="4.6"/>
<text x="1071.0" y="1710.2" font-size="28.5" text-anchor="end" fill="#181818">0.3</text>
<line x1="1074.2" y1="1637.7" x2="1090.6" y2="1637.7" stroke="#181818" stroke-width="4.6"/>
<text x="1071.0" y="1647.3" font-size="28.5" text-anchor="end" fill="#181818">0.6</text>
<line x1="1074.2" y1="1574.7" x2="1090.6" y2="1574.7" stroke="#181818" stroke-width="4.6"/>
<text x="1071.0" y="1584.3" font-size="28.5" text-anchor="end" fill="#181818">0.9</text>
<line x1="1074.2" y1="1511.8" x2="1090.6" y2="1511.8" stroke="#181818" stroke-width="4.6"/>
<text x="1071.0" y="1521.4" font-size="28.5" text-anchor="end" fill="#181818">1.2</text>
<line x1="1074.2" y1="1448.9" x2="1090.6" y2="1448.9" stroke="#181818" stroke-width="4.6"/>
<text x="1071.0" y="1458.5" font-size="28.5" text-anchor="end" fill="#181818">1.5</text>
<line x1="1132.6" y1="1555.9" x2="1132.6" y2="1541.0" stroke="#181818" stroke-width="3.6"/>
<line x1="1126.8" y1="1541.5" x2="1138.3" y2="1541.5" stroke="#181818" stroke-width="4.0"/>
<line x1="1171.6" y1="1551.0" x2="1171.6" y2="1515.6" stroke="#181818" stroke-width="3.6"/>
<line x1="1165.8" y1="1516.1" x2="1177.3" y2="1516.1" stroke="#181818" stroke-width="4.0"/>
<line x1="1210.5" y1="1601.6" x2="1210.5" y2="1584.2" stroke="#181818" stroke-width="3.6"/>
<line x1="1204.8" y1="1584.7" x2="1216.2" y2="1584.7" stroke="#181818" stroke-width="4.0"/>
<line x1="1287.3" y1="1721.0" x2="1287.3" y2="1690.2" stroke="#181818" stroke-width="3.6"/>
<line x1="1281.5" y1="1690.7" x2="1293.0" y2="1690.7" stroke="#181818" stroke-width="4.0"/>
<line x1="1325.7" y1="1723.5" x2="1325.7" y2="1704.1" stroke="#181818" stroke-width="3.6"/>
<line x1="1320.0" y1="1704.6" x2="1331.5" y2="1704.6" stroke="#181818" stroke-width="4.0"/>
<line x1="1364.6" y1="1706.5" x2="1364.6" y2="1692.2" stroke="#181818" stroke-width="3.6"/>
<line x1="1358.8" y1="1692.7" x2="1370.3" y2="1692.7" stroke="#181818" stroke-width="4.0"/>
<polyline points="1132.2,1487.9 1132.2,1428.0 1286.7,1428.0 1286.7,1654.9" stroke="#e0262c" stroke-width="3.4" fill="none" stroke-linejoin="miter" stroke-linecap="butt"/>
<circle cx="1133.0" cy="1498.5" r="5.5" fill="#fff" stroke="#181818" stroke-width="2.35"/>
<circle cx="1133.0" cy="1564.1" r="5.5" fill="#fff" stroke="#181818" stroke-width="2.35"/>
<circle cx="1119.9" cy="1578.6" r="5.5" fill="#fff" stroke="#181818" stroke-width="2.35"/>
<circle cx="1144.5" cy="1569.4" r="5.5" fill="#fff" stroke="#181818" stroke-width="2.35"/>
<circle cx="1171.6" cy="1441.1" r="5.5" fill="#fff" stroke="#181818" stroke-width="2.35"/>
<circle cx="1171.6" cy="1546.3" r="5.5" fill="#fff" stroke="#181818" stroke-width="2.35"/>
<circle cx="1171.6" cy="1568.8" r="5.5" fill="#fff" stroke="#181818" stroke-width="2.35"/>
<circle cx="1171.6" cy="1627.2" r="5.5" fill="#fff" stroke="#181818" stroke-width="2.35"/>
<circle cx="1210.5" cy="1547.7" r="5.5" fill="#fff" stroke="#181818" stroke-width="2.35"/>
<circle cx="1200.7" cy="1594.8" r="5.5" fill="#fff" stroke="#181818" stroke-width="2.35"/>
<circle cx="1220.1" cy="1612.9" r="5.5" fill="#fff" stroke="#181818" stroke-width="2.35"/>
<circle cx="1210.5" cy="1635.4" r="5.5" fill="#fff" stroke="#181818" stroke-width="2.35"/>
<circle cx="1286.7" cy="1669.8" r="5.5" fill="#fff" stroke="#181818" stroke-width="2.35"/>
<circle cx="1286.7" cy="1728.7" r="5.5" fill="#fff" stroke="#181818" stroke-width="2.35"/>
<circle cx="1299.0" cy="1736.8" r="5.5" fill="#fff" stroke="#181818" stroke-width="2.35"/>
<circle cx="1278.1" cy="1747.1" r="5.5" fill="#fff" stroke="#181818" stroke-width="2.35"/>
<circle cx="1325.2" cy="1658.4" r="5.5" fill="#fff" stroke="#181818" stroke-width="2.35"/>
<circle cx="1316.0" cy="1733.4" r="5.5" fill="#fff" stroke="#181818" stroke-width="2.35"/>
<circle cx="1336.5" cy="1743.0" r="5.5" fill="#fff" stroke="#181818" stroke-width="2.35"/>
<circle cx="1316.0" cy="1760.4" r="5.5" fill="#fff" stroke="#181818" stroke-width="2.35"/>
<circle cx="1364.2" cy="1662.5" r="5.5" fill="#fff" stroke="#181818" stroke-width="2.35"/>
<circle cx="1364.2" cy="1702.6" r="5.5" fill="#fff" stroke="#181818" stroke-width="2.35"/>
<circle cx="1375.9" cy="1725.6" r="5.5" fill="#fff" stroke="#181818" stroke-width="2.35"/>
<circle cx="1354.3" cy="1736.2" r="5.5" fill="#fff" stroke="#181818" stroke-width="2.35"/>
<text x="1209.2" y="1432.5" font-size="41" text-anchor="middle" fill="#e0262c" letter-spacing="1.5">***</text>
<text x="1142.1" y="1772.0" font-size="28.5" text-anchor="end" fill="#181818" transform="rotate(-90 1142.1 1772.0)">vector</text>
<text x="1183.2" y="1772.0" font-size="28.5" text-anchor="end" fill="#14693a" transform="rotate(-90 1183.2 1772.0)">+WT MOF</text>
<text x="1224.6" y="1772.0" font-size="28.5" text-anchor="end" fill="#e0302c" transform="rotate(-90 1224.6 1772.0)">+E350Q</text>
<text x="1299.0" y="1772.0" font-size="28.5" text-anchor="end" fill="#181818" transform="rotate(-90 1299.0 1772.0)">vector</text>
<text x="1339.8" y="1772.0" font-size="28.5" text-anchor="end" fill="#14693a" transform="rotate(-90 1339.8 1772.0)">+WT MOF</text>
<text x="1381.4" y="1772.0" font-size="28.5" text-anchor="end" fill="#e0302c" transform="rotate(-90 1381.4 1772.0)">+E350Q</text>
<text x="1170.3" y="1936.2" font-size="28.5" text-anchor="middle" fill="#181818">WT</text>
<text x="1338.8" y="1936.2" font-size="28.5" text-anchor="middle" fill="#181818"><tspan font-style="italic">Mof</tspan> KO</text>
<text x="1460.5" y="1378.5" font-size="50" text-anchor="start" fill="#181818">j</text>
<text x="1705.2" y="1389.0" font-size="37.5" text-anchor="middle" fill="#181818">Viral - Exogenous MOF</text>
<text x="1495.5" y="1597.0" font-size="29" text-anchor="middle" fill="#181818" transform="rotate(-90 1495.5 1597.0)">relative protein levels ± SEM</text>
<rect x="1595.2" y="1741.9" width="36.9" height="21.3" fill="#fff" stroke="#181818" stroke-width="4.3" stroke-linejoin="miter"/>
<rect x="1632.1" y="1689.6" width="39.9" height="73.6" fill="#eef5e3" stroke="#181818" stroke-width="4.3" stroke-linejoin="miter"/>
<rect x="1672.0" y="1685.5" width="39.0" height="77.8" fill="#fbe0d4" stroke="#181818" stroke-width="4.3" stroke-linejoin="miter"/>
<rect x="1750.9" y="1753.2" width="36.9" height="10.0" fill="#181818" stroke="#181818" stroke-width="4.3" stroke-linejoin="miter"/>
<rect x="1787.8" y="1666.1" width="39.0" height="97.1" fill="#0b6a35" stroke="#181818" stroke-width="4.3" stroke-linejoin="miter"/>
<rect x="1826.8" y="1615.8" width="37.9" height="147.5" fill="#e0262c" stroke="#181818" stroke-width="4.3" stroke-linejoin="miter"/>
<line x1="1572.3" y1="1445.4" x2="1572.3" y2="1772.5" stroke="#181818" stroke-width="4.6"/>
<line x1="1556.3" y1="1763.2" x2="1889.5" y2="1763.2" stroke="#181818" stroke-width="4.6"/>
<line x1="1887.2" y1="1763.2" x2="1887.2" y2="1772.5" stroke="#181818" stroke-width="4.6"/>
<line x1="1729.4" y1="1763.2" x2="1729.4" y2="1772.5" stroke="#181818" stroke-width="4.6"/>
<line x1="1556.3" y1="1763.2" x2="1572.3" y2="1763.2" stroke="#181818" stroke-width="4.6"/>
<text x="1553.1" y="1772.8" font-size="28.5" text-anchor="end" fill="#181818">0</text>
<line x1="1556.3" y1="1710.6" x2="1572.3" y2="1710.6" stroke="#181818" stroke-width="4.6"/>
<text x="1553.1" y="1720.2" font-size="28.5" text-anchor="end" fill="#181818">0.3</text>
<line x1="1556.3" y1="1658.0" x2="1572.3" y2="1658.0" stroke="#181818" stroke-width="4.6"/>
<text x="1553.1" y="1667.6" font-size="28.5" text-anchor="end" fill="#181818">0.6</text>
<line x1="1556.3" y1="1605.5" x2="1572.3" y2="1605.5" stroke="#181818" stroke-width="4.6"/>
<text x="1553.1" y="1615.0" font-size="28.5" text-anchor="end" fill="#181818">0.9</text>
<line x1="1556.3" y1="1552.9" x2="1572.3" y2="1552.9" stroke="#181818" stroke-width="4.6"/>
<text x="1553.1" y="1562.5" font-size="28.5" text-anchor="end" fill="#181818">1.2</text>
<line x1="1556.3" y1="1500.3" x2="1572.3" y2="1500.3" stroke="#181818" stroke-width="4.6"/>
<text x="1553.1" y="1509.9" font-size="28.5" text-anchor="end" fill="#181818">1.5</text>
<line x1="1556.3" y1="1447.7" x2="1572.3" y2="1447.7" stroke="#181818" stroke-width="4.6"/>
<text x="1553.1" y="1457.3" font-size="28.5" text-anchor="end" fill="#181818">1.8</text>
<line x1="1611.0" y1="1739.7" x2="1611.0" y2="1737.1" stroke="#181818" stroke-width="3.6"/>
<line x1="1605.2" y1="1737.6" x2="1616.8" y2="1737.6" stroke="#181818" stroke-width="4.0"/>
<line x1="1653.6" y1="1687.4" x2="1653.6" y2="1674.5" stroke="#181818" stroke-width="3.6"/>
<line x1="1647.8" y1="1675.0" x2="1659.3" y2="1675.0" stroke="#181818" stroke-width="4.0"/>
<line x1="1692.5" y1="1683.3" x2="1692.5" y2="1680.1" stroke="#181818" stroke-width="3.6"/>
<line x1="1686.8" y1="1680.6" x2="1698.2" y2="1680.6" stroke="#181818" stroke-width="4.0"/>
<line x1="1768.4" y1="1751.0" x2="1768.4" y2="1738.1" stroke="#181818" stroke-width="3.6"/>
<line x1="1762.7" y1="1738.6" x2="1774.2" y2="1738.6" stroke="#181818" stroke-width="4.0"/>
<line x1="1807.3" y1="1663.9" x2="1807.3" y2="1651.0" stroke="#181818" stroke-width="3.6"/>
<line x1="1801.5" y1="1651.5" x2="1813.0" y2="1651.5" stroke="#181818" stroke-width="4.0"/>
<line x1="1846.2" y1="1613.6" x2="1846.2" y2="1570.1" stroke="#181818" stroke-width="3.6"/>
<line x1="1840.5" y1="1570.6" x2="1852.0" y2="1570.6" stroke="#181818" stroke-width="4.0"/>
<polyline points="1610.6,1720.2 1610.6,1484.5 1692.1,1484.5 1692.1,1630.0" stroke="#e0262c" stroke-width="3.4" fill="none" stroke-linejoin="miter" stroke-linecap="butt"/>
<polyline points="1610.6,1565.1 1654.0,1565.1 1654.0,1630.0" stroke="#e0262c" stroke-width="3.4" fill="none" stroke-linejoin="miter" stroke-linecap="butt"/>
<polyline points="1767.3,1722.3 1767.3,1440.5 1846.2,1440.5 1846.2,1463.0" stroke="#e0262c" stroke-width="3.4" fill="none" stroke-linejoin="miter" stroke-linecap="butt"/>
<polyline points="1767.3,1523.5 1809.3,1523.5 1809.3,1612.6" stroke="#e0262c" stroke-width="3.4" fill="none" stroke-linejoin="miter" stroke-linecap="butt"/>
<circle cx="1602.4" cy="1744.2" r="5.5" fill="#fff" stroke="#181818" stroke-width="2.35"/>
<circle cx="1611.0" cy="1733.5" r="5.5" fill="#fff" stroke="#181818" stroke-width="2.35"/>
<circle cx="1617.7" cy="1742.7" r="5.5" fill="#fff" stroke="#181818" stroke-width="2.35"/>
<circle cx="1626.4" cy="1737.2" r="5.5" fill="#fff" stroke="#181818" stroke-width="2.35"/>
<circle cx="1659.8" cy="1643.0" r="5.5" fill="#fff" stroke="#181818" stroke-width="2.35"/>
<circle cx="1645.4" cy="1680.7" r="5.5" fill="#fff" stroke="#181818" stroke-width="2.35"/>
<circle cx="1660.2" cy="1709.3" r="5.5" fill="#fff" stroke="#181818" stroke-width="2.35"/>
<circle cx="1646.0" cy="1718.2" r="5.5" fill="#fff" stroke="#181818" stroke-width="2.35"/>
<circle cx="1692.5" cy="1663.9" r="5.5" fill="#fff" stroke="#181818" stroke-width="2.35"/>
<circle cx="1682.3" cy="1691.5" r="5.5" fill="#fff" stroke="#181818" stroke-width="2.35"/>
<circle cx="1693.0" cy="1690.1" r="5.5" fill="#fff" stroke="#181818" stroke-width="2.35"/>
<circle cx="1703.4" cy="1690.9" r="5.5" fill="#fff" stroke="#181818" stroke-width="2.35"/>
<circle cx="1759.1" cy="1735.6" r="5.5" fill="#fff" stroke="#181818" stroke-width="2.35"/>
<circle cx="1778.6" cy="1734.5" r="5.5" fill="#fff" stroke="#181818" stroke-width="2.35"/>
<circle cx="1759.1" cy="1756.1" r="5.5" fill="#fff" stroke="#181818" stroke-width="2.35"/>
<circle cx="1778.6" cy="1755.0" r="5.5" fill="#fff" stroke="#181818" stroke-width="2.35"/>
<circle cx="1806.9" cy="1635.2" r="5.5" fill="#fff" stroke="#181818" stroke-width="2.35"/>
<circle cx="1796.0" cy="1657.7" r="5.5" fill="#fff" stroke="#181818" stroke-width="2.35"/>
<circle cx="1817.5" cy="1659.3" r="5.5" fill="#fff" stroke="#181818" stroke-width="2.35"/>
<circle cx="1806.9" cy="1707.3" r="5.5" fill="#fff" stroke="#181818" stroke-width="2.35"/>
<circle cx="1845.2" cy="1478.4" r="5.5" fill="#fff" stroke="#181818" stroke-width="2.35"/>
<circle cx="1845.2" cy="1630.0" r="5.5" fill="#fff" stroke="#181818" stroke-width="2.35"/>
<circle cx="1845.2" cy="1661.4" r="5.5" fill="#fff" stroke="#181818" stroke-width="2.35"/>
<circle cx="1845.2" cy="1688.4" r="5.5" fill="#fff" stroke="#181818" stroke-width="2.35"/>
<text x="1652.3" y="1488.7" font-size="41" text-anchor="middle" fill="#e0262c" letter-spacing="1.5">***</text>
<text x="1629.3" y="1566.1" font-size="41" text-anchor="middle" fill="#e0262c" letter-spacing="1.5">*</text>
<text x="1813.2" y="1447.7" font-size="41" text-anchor="middle" fill="#e0262c" letter-spacing="1.5">*</text>
<text x="1790.7" y="1521.5" font-size="41" text-anchor="middle" fill="#e0262c" letter-spacing="1.5">**</text>
<text x="1623.7" y="1771.0" font-size="28.5" text-anchor="end" fill="#181818" transform="rotate(-90 1623.7 1771.0)">vector</text>
<text x="1665.1" y="1771.0" font-size="28.5" text-anchor="end" fill="#14693a" transform="rotate(-90 1665.1 1771.0)">+WT MOF</text>
<text x="1706.1" y="1771.0" font-size="28.5" text-anchor="end" fill="#e0302c" transform="rotate(-90 1706.1 1771.0)">+E350Q</text>
<text x="1780.6" y="1771.0" font-size="28.5" text-anchor="end" fill="#181818" transform="rotate(-90 1780.6 1771.0)">vector</text>
<text x="1821.8" y="1771.0" font-size="28.5" text-anchor="end" fill="#14693a" transform="rotate(-90 1821.8 1771.0)">+WT MOF</text>
<text x="1862.8" y="1771.0" font-size="28.5" text-anchor="end" fill="#e0302c" transform="rotate(-90 1862.8 1771.0)">+E350Q</text>
<text x="1652.3" y="1935.2" font-size="28.5" text-anchor="middle" fill="#181818">WT</text>
<text x="1807.4" y="1935.2" font-size="28.5" text-anchor="middle" fill="#181818"><tspan font-style="italic">Mof</tspan> KO</text>
<text x="9.0" y="2014.0" font-size="50" text-anchor="start" fill="#181818">k</text>
<text x="275.0" y="2024.5" font-size="37.5" text-anchor="middle" fill="#181818">H4K16ac</text>
<text x="48.7" y="2244.0" font-size="29" text-anchor="middle" fill="#181818" transform="rotate(-90 48.7 2244.0)">relative protein levels ± SEM</text>
<rect x="156.7" y="2204.8" width="37.7" height="194.6" fill="#fff" stroke="#181818" stroke-width="4.3" stroke-linejoin="miter"/>
<rect x="194.4" y="2211.0" width="39.6" height="188.4" fill="#eef5e3" stroke="#181818" stroke-width="4.3" stroke-linejoin="miter"/>
<rect x="234.0" y="2217.6" width="36.3" height="181.8" fill="#fbe0d4" stroke="#181818" stroke-width="4.3" stroke-linejoin="miter"/>
<rect x="311.8" y="2328.2" width="36.9" height="71.2" fill="#181818" stroke="#181818" stroke-width="4.3" stroke-linejoin="miter"/>
<rect x="348.7" y="2263.8" width="40.0" height="135.6" fill="#0b6a35" stroke="#181818" stroke-width="4.3" stroke-linejoin="miter"/>
<rect x="388.7" y="2314.5" width="37.3" height="84.9" fill="#e0262c" stroke="#181818" stroke-width="4.3" stroke-linejoin="miter"/>
<line x1="133.6" y1="2077.4" x2="133.6" y2="2407.6" stroke="#181818" stroke-width="4.6"/>
<line x1="119.2" y1="2399.4" x2="451.4" y2="2399.4" stroke="#181818" stroke-width="4.6"/>
<line x1="449.1" y1="2399.4" x2="449.1" y2="2407.6" stroke="#181818" stroke-width="4.6"/>
<line x1="290.3" y1="2399.4" x2="290.3" y2="2407.6" stroke="#181818" stroke-width="4.6"/>
<line x1="119.2" y1="2399.4" x2="133.6" y2="2399.4" stroke="#181818" stroke-width="4.6"/>
<text x="116.0" y="2409.0" font-size="28.5" text-anchor="end" fill="#181818">0</text>
<line x1="119.2" y1="2335.5" x2="133.6" y2="2335.5" stroke="#181818" stroke-width="4.6"/>
<text x="116.0" y="2345.1" font-size="28.5" text-anchor="end" fill="#181818">0.3</text>
<line x1="119.2" y1="2271.5" x2="133.6" y2="2271.5" stroke="#181818" stroke-width="4.6"/>
<text x="116.0" y="2281.1" font-size="28.5" text-anchor="end" fill="#181818">0.6</text>
<line x1="119.2" y1="2207.6" x2="133.6" y2="2207.6" stroke="#181818" stroke-width="4.6"/>
<text x="116.0" y="2217.2" font-size="28.5" text-anchor="end" fill="#181818">0.9</text>
<line x1="119.2" y1="2143.6" x2="133.6" y2="2143.6" stroke="#181818" stroke-width="4.6"/>
<text x="116.0" y="2153.2" font-size="28.5" text-anchor="end" fill="#181818">1.2</text>
<line x1="119.2" y1="2079.7" x2="133.6" y2="2079.7" stroke="#181818" stroke-width="4.6"/>
<text x="116.0" y="2089.3" font-size="28.5" text-anchor="end" fill="#181818">1.5</text>
<line x1="175.2" y1="2202.7" x2="175.2" y2="2191.9" stroke="#181818" stroke-width="3.6"/>
<line x1="169.4" y1="2192.4" x2="180.9" y2="2192.4" stroke="#181818" stroke-width="4.0"/>
<line x1="214.1" y1="2208.8" x2="214.1" y2="2200.5" stroke="#181818" stroke-width="3.6"/>
<line x1="208.3" y1="2201.0" x2="219.8" y2="2201.0" stroke="#181818" stroke-width="4.0"/>
<line x1="252.8" y1="2215.4" x2="252.8" y2="2196.6" stroke="#181818" stroke-width="3.6"/>
<line x1="247.1" y1="2197.1" x2="258.6" y2="2197.1" stroke="#181818" stroke-width="4.0"/>
<line x1="330.3" y1="2326.0" x2="330.3" y2="2307.6" stroke="#181818" stroke-width="3.6"/>
<line x1="324.6" y1="2308.1" x2="336.1" y2="2308.1" stroke="#181818" stroke-width="4.0"/>
<line x1="369.2" y1="2261.7" x2="369.2" y2="2251.3" stroke="#181818" stroke-width="3.6"/>
<line x1="363.4" y1="2251.8" x2="374.9" y2="2251.8" stroke="#181818" stroke-width="4.0"/>
<line x1="408.2" y1="2312.3" x2="408.2" y2="2295.8" stroke="#181818" stroke-width="3.6"/>
<line x1="402.4" y1="2296.3" x2="413.9" y2="2296.3" stroke="#181818" stroke-width="4.0"/>
<polyline points="181.7,2160.7 181.7,2113.5 323.1,2113.5 323.1,2273.4" stroke="#e0262c" stroke-width="3.4" fill="none" stroke-linejoin="miter" stroke-linecap="butt"/>
<polyline points="337.5,2273.4 337.5,2155.1 360.4,2155.1 360.4,2191.4" stroke="#e0262c" stroke-width="3.4" fill="none" stroke-linejoin="miter" stroke-linecap="butt"/>
<polyline points="375.4,2191.4 375.4,2155.1 400.0,2155.1 400.0,2248.4" stroke="#e0262c" stroke-width="3.4" fill="none" stroke-linejoin="miter" stroke-linecap="butt"/>
<circle cx="175.2" cy="2167.8" r="5.5" fill="#fff" stroke="#181818" stroke-width="2.35"/>
<circle cx="175.2" cy="2201.6" r="5.5" fill="#fff" stroke="#181818" stroke-width="2.35"/>
<circle cx="164.9" cy="2219.0" r="5.5" fill="#fff" stroke="#181818" stroke-width="2.35"/>
<circle cx="185.4" cy="2215.0" r="5.5" fill="#fff" stroke="#181818" stroke-width="2.35"/>
<circle cx="213.5" cy="2180.5" r="5.5" fill="#fff" stroke="#181818" stroke-width="2.35"/>
<circle cx="204.3" cy="2201.6" r="5.5" fill="#fff" stroke="#181818" stroke-width="2.35"/>
<circle cx="222.7" cy="2213.9" r="5.5" fill="#fff" stroke="#181818" stroke-width="2.35"/>
<circle cx="213.9" cy="2235.5" r="5.5" fill="#fff" stroke="#181818" stroke-width="2.35"/>
<circle cx="253.4" cy="2149.4" r="5.5" fill="#fff" stroke="#181818" stroke-width="2.35"/>
<circle cx="244.2" cy="2225.8" r="5.5" fill="#fff" stroke="#181818" stroke-width="2.35"/>
<circle cx="262.7" cy="2236.1" r="5.5" fill="#fff" stroke="#181818" stroke-width="2.35"/>
<circle cx="244.2" cy="2245.7" r="5.5" fill="#fff" stroke="#181818" stroke-width="2.35"/>
<circle cx="329.3" cy="2292.8" r="5.5" fill="#fff" stroke="#181818" stroke-width="2.35"/>
<circle cx="319.0" cy="2318.9" r="5.5" fill="#fff" stroke="#181818" stroke-width="2.35"/>
<circle cx="339.1" cy="2330.3" r="5.5" fill="#fff" stroke="#181818" stroke-width="2.35"/>
<circle cx="319.0" cy="2343.0" r="5.5" fill="#fff" stroke="#181818" stroke-width="2.35"/>
<circle cx="358.0" cy="2233.0" r="5.5" fill="#fff" stroke="#181818" stroke-width="2.35"/>
<circle cx="379.1" cy="2232.0" r="5.5" fill="#fff" stroke="#181818" stroke-width="2.35"/>
<circle cx="358.0" cy="2257.4" r="5.5" fill="#fff" stroke="#181818" stroke-width="2.35"/>
<circle cx="368.6" cy="2282.6" r="5.5" fill="#fff" stroke="#181818" stroke-width="2.35"/>
<circle cx="408.2" cy="2261.5" r="5.5" fill="#fff" stroke="#181818" stroke-width="2.35"/>
<circle cx="397.9" cy="2304.1" r="5.5" fill="#fff" stroke="#181818" stroke-width="2.35"/>
<circle cx="417.8" cy="2305.7" r="5.5" fill="#fff" stroke="#181818" stroke-width="2.35"/>
<circle cx="408.2" cy="2348.6" r="5.5" fill="#fff" stroke="#181818" stroke-width="2.35"/>
<text x="249.1" y="2113.5" font-size="41" text-anchor="middle" fill="#e0262c" letter-spacing="1.5">***</text>
<text x="350.1" y="2156.5" font-size="41" text-anchor="middle" fill="#e0262c" letter-spacing="1.5">**</text>
<text x="388.4" y="2156.5" font-size="41" text-anchor="middle" fill="#e0262c" letter-spacing="1.5">*</text>
<text x="182.2" y="2408.0" font-size="28.5" text-anchor="end" fill="#181818" transform="rotate(-90 182.2 2408.0)">vector</text>
<text x="223.6" y="2408.0" font-size="28.5" text-anchor="end" fill="#14693a" transform="rotate(-90 223.6 2408.0)">+WT MOF</text>
<text x="264.5" y="2408.0" font-size="28.5" text-anchor="end" fill="#e0302c" transform="rotate(-90 264.5 2408.0)">+E350Q</text>
<text x="339.0" y="2408.0" font-size="28.5" text-anchor="end" fill="#181818" transform="rotate(-90 339.0 2408.0)">vector</text>
<text x="380.4" y="2408.0" font-size="28.5" text-anchor="end" fill="#14693a" transform="rotate(-90 380.4 2408.0)">+WT MOF</text>
<text x="421.8" y="2408.0" font-size="28.5" text-anchor="end" fill="#e0302c" transform="rotate(-90 421.8 2408.0)">+E350Q</text>
<text x="210.9" y="2572.2" font-size="28.5" text-anchor="middle" fill="#181818">WT</text>
<text x="366.9" y="2572.2" font-size="28.5" text-anchor="middle" fill="#181818"><tspan font-style="italic">Mof</tspan> KO</text>
<text x="593.5" y="2014.8" font-size="50" text-anchor="start" fill="#181818">l</text>
<text x="1103.9" y="2019.0" font-size="37.5" text-anchor="middle" fill="#181818">Fatty acid levels</text>
<rect x="750.90" y="2037.90" width="44.44" height="76.72" fill="#e8808f"/>
<rect x="795.04" y="2037.90" width="44.44" height="76.72" fill="#f9d4a8"/>
<rect x="839.18" y="2037.90" width="44.44" height="76.72" fill="#fdedc5"/>
<rect x="883.32" y="2037.90" width="44.44" height="76.72" fill="#fce3a8"/>
<rect x="927.46" y="2037.90" width="44.44" height="76.72" fill="#fdedc5"/>
<rect x="971.60" y="2037.90" width="44.44" height="76.72" fill="#fdf1d0"/>
<rect x="1015.74" y="2037.90" width="44.44" height="76.72" fill="#f8d2a8"/>
<rect x="1059.88" y="2037.90" width="44.44" height="76.72" fill="#fdedc5"/>
<rect x="1104.02" y="2037.90" width="44.44" height="76.72" fill="#f8d2a5"/>
<rect x="1148.16" y="2037.90" width="44.44" height="76.72" fill="#fdecc5"/>
<rect x="1192.30" y="2037.90" width="44.44" height="76.72" fill="#f6bba0"/>
<rect x="1236.44" y="2037.90" width="44.44" height="76.72" fill="#fde5b0"/>
<rect x="1280.58" y="2037.90" width="44.44" height="76.72" fill="#fde9bb"/>
<rect x="1324.72" y="2037.90" width="44.44" height="76.72" fill="#fdf0d0"/>
<rect x="1368.86" y="2037.90" width="44.44" height="76.72" fill="#f9e6b5"/>
<rect x="750.90" y="2114.32" width="44.44" height="76.72" fill="#ee8f95"/>
<rect x="795.04" y="2114.32" width="44.44" height="76.72" fill="#fde5b0"/>
<rect x="839.18" y="2114.32" width="44.44" height="76.72" fill="#fdecc5"/>
<rect x="883.32" y="2114.32" width="44.44" height="76.72" fill="#f8c4a0"/>
<rect x="927.46" y="2114.32" width="44.44" height="76.72" fill="#fdecc5"/>
<rect x="971.60" y="2114.32" width="44.44" height="76.72" fill="#fdeec8"/>
<rect x="1015.74" y="2114.32" width="44.44" height="76.72" fill="#fdebc0"/>
<rect x="1059.88" y="2114.32" width="44.44" height="76.72" fill="#fce2ab"/>
<rect x="1104.02" y="2114.32" width="44.44" height="76.72" fill="#fce6b5"/>
<rect x="1148.16" y="2114.32" width="44.44" height="76.72" fill="#fdecc5"/>
<rect x="1192.30" y="2114.32" width="44.44" height="76.72" fill="#fde4ae"/>
<rect x="1236.44" y="2114.32" width="44.44" height="76.72" fill="#fde8b5"/>
<rect x="1280.58" y="2114.32" width="44.44" height="76.72" fill="#fdf0d0"/>
<rect x="1324.72" y="2114.32" width="44.44" height="76.72" fill="#fdeccc"/>
<rect x="1368.86" y="2114.32" width="44.44" height="76.72" fill="#fdf3d8"/>
<rect x="750.90" y="2190.73" width="44.44" height="76.72" fill="#fdf3d5"/>
<rect x="795.04" y="2190.73" width="44.44" height="76.72" fill="#fdf5e0"/>
<rect x="839.18" y="2190.73" width="44.44" height="76.72" fill="#fffcf8"/>
<rect x="883.32" y="2190.73" width="44.44" height="76.72" fill="#fdeed0"/>
<rect x="927.46" y="2190.73" width="44.44" height="76.72" fill="#fffcf8"/>
<rect x="971.60" y="2190.73" width="44.44" height="76.72" fill="#fffcf8"/>
<rect x="1015.74" y="2190.73" width="44.44" height="76.72" fill="#fffaf2"/>
<rect x="1059.88" y="2190.73" width="44.44" height="76.72" fill="#fdf5e0"/>
<rect x="1104.02" y="2190.73" width="44.44" height="76.72" fill="#fdf3d8"/>
<rect x="1148.16" y="2190.73" width="44.44" height="76.72" fill="#fffcf8"/>
<rect x="1192.30" y="2190.73" width="44.44" height="76.72" fill="#fdf8ec"/>
<rect x="1236.44" y="2190.73" width="44.44" height="76.72" fill="#fdf8ec"/>
<rect x="1280.58" y="2190.73" width="44.44" height="76.72" fill="#fffbf5"/>
<rect x="1324.72" y="2190.73" width="44.44" height="76.72" fill="#fffbf5"/>
<rect x="1368.86" y="2190.73" width="44.44" height="76.72" fill="#ffffff"/>
<rect x="750.90" y="2267.15" width="44.44" height="76.72" fill="#fffaf2"/>
<rect x="795.04" y="2267.15" width="44.44" height="76.72" fill="#fffaf2"/>
<rect x="839.18" y="2267.15" width="44.44" height="76.72" fill="#fff9f0"/>
<rect x="883.32" y="2267.15" width="44.44" height="76.72" fill="#fffaf2"/>
<rect x="927.46" y="2267.15" width="44.44" height="76.72" fill="#fffaf2"/>
<rect x="971.60" y="2267.15" width="44.44" height="76.72" fill="#fff9f0"/>
<rect x="1015.74" y="2267.15" width="44.44" height="76.72" fill="#fffaf2"/>
<rect x="1059.88" y="2267.15" width="44.44" height="76.72" fill="#fffcf8"/>
<rect x="1104.02" y="2267.15" width="44.44" height="76.72" fill="#fffaf2"/>
<rect x="1148.16" y="2267.15" width="44.44" height="76.72" fill="#fffcf8"/>
<rect x="1192.30" y="2267.15" width="44.44" height="76.72" fill="#fffcf8"/>
<rect x="1236.44" y="2267.15" width="44.44" height="76.72" fill="#fffaf2"/>
<rect x="1280.58" y="2267.15" width="44.44" height="76.72" fill="#fffaf2"/>
<rect x="1324.72" y="2267.15" width="44.44" height="76.72" fill="#fffbf5"/>
<rect x="1368.86" y="2267.15" width="44.44" height="76.72" fill="#fff9f0"/>
<rect x="750.90" y="2343.57" width="44.44" height="76.72" fill="#6a2a9a"/>
<rect x="795.04" y="2343.57" width="44.44" height="76.72" fill="#e0508a"/>
<rect x="839.18" y="2343.57" width="44.44" height="76.72" fill="#ef8a97"/>
<rect x="883.32" y="2343.57" width="44.44" height="76.72" fill="#a03494"/>
<rect x="927.46" y="2343.57" width="44.44" height="76.72" fill="#e87d90"/>
<rect x="971.60" y="2343.57" width="44.44" height="76.72" fill="#ef9099"/>
<rect x="1015.74" y="2343.57" width="44.44" height="76.72" fill="#c23e8e"/>
<rect x="1059.88" y="2343.57" width="44.44" height="76.72" fill="#f09c98"/>
<rect x="1104.02" y="2343.57" width="44.44" height="76.72" fill="#e6718d"/>
<rect x="1148.16" y="2343.57" width="44.44" height="76.72" fill="#ef9098"/>
<rect x="1192.30" y="2343.57" width="44.44" height="76.72" fill="#b03892"/>
<rect x="1236.44" y="2343.57" width="44.44" height="76.72" fill="#db4e86"/>
<rect x="1280.58" y="2343.57" width="44.44" height="76.72" fill="#ec8893"/>
<rect x="1324.72" y="2343.57" width="44.44" height="76.72" fill="#f6b9a0"/>
<rect x="1368.86" y="2343.57" width="44.44" height="76.72" fill="#e8768e"/>
<rect x="750.90" y="2419.98" width="44.44" height="76.72" fill="#c2408f"/>
<rect x="795.04" y="2419.98" width="44.44" height="76.72" fill="#e9818f"/>
<rect x="839.18" y="2419.98" width="44.44" height="76.72" fill="#f8c3a0"/>
<rect x="883.32" y="2419.98" width="44.44" height="76.72" fill="#e45e88"/>
<rect x="927.46" y="2419.98" width="44.44" height="76.72" fill="#f8c4a0"/>
<rect x="971.60" y="2419.98" width="44.44" height="76.72" fill="#f8c8a2"/>
<rect x="1015.74" y="2419.98" width="44.44" height="76.72" fill="#e6708c"/>
<rect x="1059.88" y="2419.98" width="44.44" height="76.72" fill="#fad1a5"/>
<rect x="1104.02" y="2419.98" width="44.44" height="76.72" fill="#e4648a"/>
<rect x="1148.16" y="2419.98" width="44.44" height="76.72" fill="#f2a09a"/>
<rect x="1192.30" y="2419.98" width="44.44" height="76.72" fill="#e5668b"/>
<rect x="1236.44" y="2419.98" width="44.44" height="76.72" fill="#f4ae9c"/>
<rect x="1280.58" y="2419.98" width="44.44" height="76.72" fill="#f4b29c"/>
<rect x="1324.72" y="2419.98" width="44.44" height="76.72" fill="#ee8c96"/>
<rect x="1368.86" y="2419.98" width="44.44" height="76.72" fill="#ef9397"/>
<line x1="795.0" y1="2037.9" x2="795.0" y2="2496.4" stroke="#181818" stroke-width="2.7"/>
<line x1="839.2" y1="2037.9" x2="839.2" y2="2496.4" stroke="#181818" stroke-width="2.7"/>
<line x1="883.3" y1="2037.9" x2="883.3" y2="2496.4" stroke="#181818" stroke-width="2.7"/>
<line x1="927.5" y1="2037.9" x2="927.5" y2="2496.4" stroke="#181818" stroke-width="2.7"/>
<line x1="971.6" y1="2037.9" x2="971.6" y2="2496.4" stroke="#181818" stroke-width="2.7"/>
<line x1="1015.7" y1="2037.9" x2="1015.7" y2="2496.4" stroke="#181818" stroke-width="2.7"/>
<line x1="1059.9" y1="2037.9" x2="1059.9" y2="2496.4" stroke="#181818" stroke-width="2.7"/>
<line x1="1104.0" y1="2037.9" x2="1104.0" y2="2496.4" stroke="#181818" stroke-width="2.7"/>
<line x1="1148.2" y1="2037.9" x2="1148.2" y2="2496.4" stroke="#181818" stroke-width="2.7"/>
<line x1="1192.3" y1="2037.9" x2="1192.3" y2="2496.4" stroke="#181818" stroke-width="2.7"/>
<line x1="1236.4" y1="2037.9" x2="1236.4" y2="2496.4" stroke="#181818" stroke-width="2.7"/>
<line x1="1280.6" y1="2037.9" x2="1280.6" y2="2496.4" stroke="#181818" stroke-width="2.7"/>
<line x1="1324.7" y1="2037.9" x2="1324.7" y2="2496.4" stroke="#181818" stroke-width="2.7"/>
<line x1="1368.9" y1="2037.9" x2="1368.9" y2="2496.4" stroke="#181818" stroke-width="2.7"/>
<line x1="750.9" y1="2114.3" x2="1413.0" y2="2114.3" stroke="#181818" stroke-width="2.7"/>
<line x1="750.9" y1="2190.7" x2="1413.0" y2="2190.7" stroke="#181818" stroke-width="2.7"/>
<line x1="750.9" y1="2267.2" x2="1413.0" y2="2267.2" stroke="#181818" stroke-width="2.7"/>
<line x1="750.9" y1="2343.6" x2="1413.0" y2="2343.6" stroke="#181818" stroke-width="2.7"/>
<line x1="750.9" y1="2420.0" x2="1413.0" y2="2420.0" stroke="#181818" stroke-width="2.7"/>
<rect x="752.7" y="2039.7" width="658.5" height="454.9" fill="none" stroke="#181818" stroke-width="3.6"/>
<text x="779.3" y="2504.5" font-size="28.5" text-anchor="end" fill="#181818" transform="rotate(-90 779.3 2504.5)">C14:0</text>
<text x="823.4" y="2504.5" font-size="28.5" text-anchor="end" fill="#181818" transform="rotate(-90 823.4 2504.5)">C15:0</text>
<text x="867.5" y="2504.5" font-size="28.5" text-anchor="end" fill="#181818" transform="rotate(-90 867.5 2504.5)">C16:0</text>
<text x="911.7" y="2504.5" font-size="28.5" text-anchor="end" fill="#181818" transform="rotate(-90 911.7 2504.5)">C16:1</text>
<text x="955.8" y="2504.5" font-size="28.5" text-anchor="end" fill="#181818" transform="rotate(-90 955.8 2504.5)">C18:0</text>
<text x="1000.0" y="2504.5" font-size="28.5" text-anchor="end" fill="#181818" transform="rotate(-90 1000.0 2504.5)">C18:1</text>
<text x="1044.1" y="2504.5" font-size="28.5" text-anchor="end" fill="#181818" transform="rotate(-90 1044.1 2504.5)">C18:2</text>
<text x="1088.2" y="2504.5" font-size="28.5" text-anchor="end" fill="#181818" transform="rotate(-90 1088.2 2504.5)">C20:0</text>
<text x="1132.4" y="2504.5" font-size="28.5" text-anchor="end" fill="#181818" transform="rotate(-90 1132.4 2504.5)">C20:1</text>
<text x="1176.5" y="2504.5" font-size="28.5" text-anchor="end" fill="#181818" transform="rotate(-90 1176.5 2504.5)">C20:2</text>
<text x="1220.7" y="2504.5" font-size="28.5" text-anchor="end" fill="#181818" transform="rotate(-90 1220.7 2504.5)">C20:3</text>
<text x="1264.8" y="2504.5" font-size="28.5" text-anchor="end" fill="#181818" transform="rotate(-90 1264.8 2504.5)">C20:4</text>
<text x="1309.0" y="2504.5" font-size="28.5" text-anchor="end" fill="#181818" transform="rotate(-90 1309.0 2504.5)">C22:0</text>
<text x="1353.1" y="2504.5" font-size="28.5" text-anchor="end" fill="#181818" transform="rotate(-90 1353.1 2504.5)">C22:1</text>
<text x="1397.2" y="2504.5" font-size="28.5" text-anchor="end" fill="#181818" transform="rotate(-90 1397.2 2504.5)">C24:0</text>
<polyline points="749.0,2076.1 739.4,2076.1 739.4,2152.5 749.0,2152.5" stroke="#181818" stroke-width="4.0" fill="none" stroke-linejoin="miter"/>
<polyline points="749.0,2228.9 739.4,2228.9 739.4,2305.4 749.0,2305.4" stroke="#181818" stroke-width="4.0" fill="none" stroke-linejoin="miter"/>
<polyline points="739.4,2114.3 721.2,2114.3 721.2,2267.2 739.4,2267.2" stroke="#181818" stroke-width="4.0" fill="none" stroke-linejoin="miter"/>
<polyline points="749.0,2381.8 731.8,2381.8 731.8,2458.2 749.0,2458.2" stroke="#181818" stroke-width="4.0" fill="none" stroke-linejoin="miter"/>
<polyline points="721.2,2190.7 689.6,2190.7 689.6,2420.0 731.8,2420.0" stroke="#181818" stroke-width="4.0" fill="none" stroke-linejoin="miter"/>
<text x="1428.0" y="2069.9" font-size="28.5" text-anchor="start" fill="#181818"><tspan font-style="italic">Mof</tspan> KO</text>
<text x="1428.0" y="2105.7" font-size="28.5" text-anchor="start" fill="#181818">+ wt MOF</text>
<text x="1428.0" y="2146.0" font-size="28.5" text-anchor="start" fill="#181818">WT</text>
<text x="1428.0" y="2182.0" font-size="28.5" text-anchor="start" fill="#181818">+ MOF E350Q</text>
<text x="1428.0" y="2222.3" font-size="28.5" text-anchor="start" fill="#181818">WT</text>
<text x="1428.0" y="2258.2" font-size="28.5" text-anchor="start" fill="#181818">+ wt MOF</text>
<text x="1428.0" y="2315.2" font-size="28.5" text-anchor="start" fill="#181818">WT</text>
<text x="1428.0" y="2376.0" font-size="28.5" text-anchor="start" fill="#181818"><tspan font-style="italic">Mof</tspan> KO</text>
<text x="1428.0" y="2410.7" font-size="28.5" text-anchor="start" fill="#181818">+ MOF E350Q</text>
<text x="1428.0" y="2469.0" font-size="28.5" text-anchor="start" fill="#181818"><tspan font-style="italic">Mof</tspan> KO</text>
<defs><linearGradient id="fag" x1="0" x2="1" y1="0" y2="0">
<stop offset="0" stop-color="#fffcf5"/><stop offset="0.12" stop-color="#fff5e0"/><stop offset="0.22" stop-color="#fdefcf"/>
<stop offset="0.33" stop-color="#fbe6b2"/><stop offset="0.42" stop-color="#f6c8a3"/><stop offset="0.52" stop-color="#ee9e98"/>
<stop offset="0.6" stop-color="#e8808f"/><stop offset="0.7" stop-color="#df4e84"/><stop offset="0.8" stop-color="#bb3c8f"/>
<stop offset="0.9" stop-color="#93329e"/><stop offset="1" stop-color="#6a2aa0"/></linearGradient></defs>
<rect x="1633.2" y="2040.1" width="135.2" height="31.7" fill="url(#fag)" stroke="#181818" stroke-width="3.5"/>
<line x1="1650.8" y1="2073.0" x2="1650.8" y2="2084.6" stroke="#181818" stroke-width="3.5"/>
<line x1="1757.6" y1="2073.0" x2="1757.6" y2="2084.6" stroke="#181818" stroke-width="3.5"/>
<text x="1651.0" y="2107.5" font-size="28.5" text-anchor="middle" fill="#181818">1</text>
<text x="1758.3" y="2107.5" font-size="28.5" text-anchor="middle" fill="#181818">2.5</text>
<text x="1701.5" y="2030.3" font-size="29" text-anchor="middle" fill="#181818">FA levels</text>
</svg></body></html>
